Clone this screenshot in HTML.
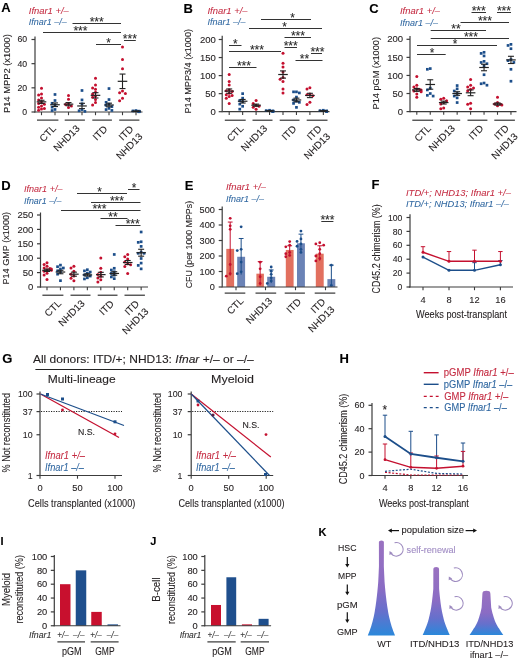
<!DOCTYPE html>
<html><head><meta charset="utf-8"><style>
html,body{margin:0;padding:0;background:#fff;}
svg{display:block;will-change:transform;}
text{font-family:"Liberation Sans",sans-serif;}
</style></head><body>
<svg width="520" height="659" viewBox="0 0 520 659">
<rect width="520" height="659" fill="#fff"/>
<g fill="#231f20">
<text x="1.30" y="11.80" font-size="13.00" fill="#000" font-weight="bold" stroke="#000" stroke-width="0.10">A</text>
<text x="28.80" y="13.80" font-size="9.80" fill="#c42a40" textLength="40.00" lengthAdjust="spacingAndGlyphs" font-style="italic" stroke="#c42a40" stroke-width="0.05">Ifnar1 +/–</text>
<text x="28.80" y="25.00" font-size="9.80" fill="#2e66a0" textLength="38.00" lengthAdjust="spacingAndGlyphs" font-style="italic" stroke="#2e66a0" stroke-width="0.05">Ifnar1 –/–</text>
<line x1="35.00" y1="36.50" x2="35.00" y2="112.60" stroke="#3c3c3c" stroke-width="1.20"/>
<line x1="31.50" y1="112.00" x2="35.00" y2="112.00" stroke="#3c3c3c" stroke-width="1.20"/>
<text x="27.20" y="114.99" font-size="8.30" text-anchor="end" textLength="4.85" lengthAdjust="spacingAndGlyphs" stroke="#231f20" stroke-width="0.10">0</text>
<line x1="31.50" y1="87.83" x2="35.00" y2="87.83" stroke="#3c3c3c" stroke-width="1.20"/>
<text x="27.20" y="90.82" font-size="8.30" text-anchor="end" textLength="9.70" lengthAdjust="spacingAndGlyphs" stroke="#231f20" stroke-width="0.10">20</text>
<line x1="31.50" y1="63.67" x2="35.00" y2="63.67" stroke="#3c3c3c" stroke-width="1.20"/>
<text x="27.20" y="66.65" font-size="8.30" text-anchor="end" textLength="9.70" lengthAdjust="spacingAndGlyphs" stroke="#231f20" stroke-width="0.10">40</text>
<line x1="31.50" y1="39.50" x2="35.00" y2="39.50" stroke="#3c3c3c" stroke-width="1.20"/>
<text x="27.20" y="42.49" font-size="8.30" text-anchor="end" textLength="9.70" lengthAdjust="spacingAndGlyphs" stroke="#231f20" stroke-width="0.10">60</text>
<text x="9.60" y="73.60" font-size="9.30" text-anchor="middle" textLength="79.00" lengthAdjust="spacingAndGlyphs" transform="rotate(-90.0 9.60 73.60)" stroke="#231f20" stroke-width="0.10">P14 MPP2 (x1000)</text>
<line x1="34.40" y1="112.00" x2="142.50" y2="112.00" stroke="#3c3c3c" stroke-width="1.20"/>
<line x1="41.50" y1="112.00" x2="41.50" y2="115.20" stroke="#3c3c3c" stroke-width="1.10"/>
<line x1="55.00" y1="112.00" x2="55.00" y2="115.20" stroke="#3c3c3c" stroke-width="1.10"/>
<line x1="68.50" y1="112.00" x2="68.50" y2="115.20" stroke="#3c3c3c" stroke-width="1.10"/>
<line x1="82.00" y1="112.00" x2="82.00" y2="115.20" stroke="#3c3c3c" stroke-width="1.10"/>
<line x1="95.50" y1="112.00" x2="95.50" y2="115.20" stroke="#3c3c3c" stroke-width="1.10"/>
<line x1="109.00" y1="112.00" x2="109.00" y2="115.20" stroke="#3c3c3c" stroke-width="1.10"/>
<line x1="122.50" y1="112.00" x2="122.50" y2="115.20" stroke="#3c3c3c" stroke-width="1.10"/>
<line x1="136.00" y1="112.00" x2="136.00" y2="115.20" stroke="#3c3c3c" stroke-width="1.10"/>
<circle cx="41.50" cy="88.32" r="1.50" fill="#c4102f"/>
<circle cx="41.50" cy="93.88" r="1.50" fill="#c4102f"/>
<circle cx="38.60" cy="95.08" r="1.50" fill="#c4102f"/>
<circle cx="41.50" cy="98.10" r="1.50" fill="#c4102f"/>
<circle cx="38.60" cy="99.92" r="1.50" fill="#c4102f"/>
<circle cx="41.50" cy="101.73" r="1.50" fill="#c4102f"/>
<circle cx="38.60" cy="103.54" r="1.50" fill="#c4102f"/>
<circle cx="44.40" cy="104.15" r="1.50" fill="#c4102f"/>
<circle cx="41.50" cy="105.96" r="1.50" fill="#c4102f"/>
<circle cx="38.60" cy="107.17" r="1.50" fill="#c4102f"/>
<circle cx="44.40" cy="108.38" r="1.50" fill="#c4102f"/>
<circle cx="41.50" cy="108.98" r="1.50" fill="#c4102f"/>
<circle cx="38.60" cy="110.19" r="1.50" fill="#c4102f"/>
<line x1="36.70" y1="101.85" x2="46.30" y2="101.85" stroke="#222" stroke-width="1.20"/>
<line x1="41.50" y1="100.28" x2="41.50" y2="103.42" stroke="#222" stroke-width="1.10"/>
<line x1="38.50" y1="100.28" x2="44.50" y2="100.28" stroke="#222" stroke-width="1.10"/>
<line x1="38.50" y1="103.42" x2="44.50" y2="103.42" stroke="#222" stroke-width="1.10"/>
<rect x="53.65" y="93.13" width="2.70" height="2.70" fill="#1c4e8a"/>
<rect x="53.65" y="99.17" width="2.70" height="2.70" fill="#1c4e8a"/>
<rect x="50.75" y="101.95" width="2.70" height="2.70" fill="#1c4e8a"/>
<rect x="53.65" y="103.64" width="2.70" height="2.70" fill="#1c4e8a"/>
<rect x="50.75" y="105.82" width="2.70" height="2.70" fill="#1c4e8a"/>
<rect x="53.65" y="108.11" width="2.70" height="2.70" fill="#1c4e8a"/>
<rect x="50.75" y="109.20" width="2.70" height="2.70" fill="#1c4e8a"/>
<line x1="50.20" y1="104.75" x2="59.80" y2="104.75" stroke="#222" stroke-width="1.20"/>
<line x1="55.00" y1="102.94" x2="55.00" y2="106.56" stroke="#222" stroke-width="1.10"/>
<line x1="52.00" y1="102.94" x2="58.00" y2="102.94" stroke="#222" stroke-width="1.10"/>
<line x1="52.00" y1="106.56" x2="58.00" y2="106.56" stroke="#222" stroke-width="1.10"/>
<circle cx="68.50" cy="95.57" r="1.50" fill="#c4102f"/>
<circle cx="68.50" cy="99.31" r="1.50" fill="#c4102f"/>
<circle cx="68.50" cy="103.78" r="1.50" fill="#c4102f"/>
<circle cx="65.60" cy="104.51" r="1.50" fill="#c4102f"/>
<circle cx="71.40" cy="105.96" r="1.50" fill="#c4102f"/>
<circle cx="68.50" cy="107.41" r="1.50" fill="#c4102f"/>
<line x1="63.70" y1="104.15" x2="73.30" y2="104.15" stroke="#222" stroke-width="1.20"/>
<line x1="68.50" y1="102.58" x2="68.50" y2="105.72" stroke="#222" stroke-width="1.10"/>
<line x1="65.50" y1="102.58" x2="71.50" y2="102.58" stroke="#222" stroke-width="1.10"/>
<line x1="65.50" y1="105.72" x2="71.50" y2="105.72" stroke="#222" stroke-width="1.10"/>
<rect x="80.65" y="89.14" width="2.70" height="2.70" fill="#1c4e8a"/>
<rect x="80.65" y="98.57" width="2.70" height="2.70" fill="#1c4e8a"/>
<rect x="80.65" y="102.43" width="2.70" height="2.70" fill="#1c4e8a"/>
<rect x="80.65" y="108.23" width="2.70" height="2.70" fill="#1c4e8a"/>
<rect x="77.75" y="109.44" width="2.70" height="2.70" fill="#1c4e8a"/>
<rect x="83.55" y="110.05" width="2.70" height="2.70" fill="#1c4e8a"/>
<line x1="77.20" y1="105.96" x2="86.80" y2="105.96" stroke="#222" stroke-width="1.20"/>
<line x1="82.00" y1="103.30" x2="82.00" y2="108.62" stroke="#222" stroke-width="1.10"/>
<line x1="79.00" y1="103.30" x2="85.00" y2="103.30" stroke="#222" stroke-width="1.10"/>
<line x1="79.00" y1="108.62" x2="85.00" y2="108.62" stroke="#222" stroke-width="1.10"/>
<circle cx="95.50" cy="78.29" r="1.50" fill="#c4102f"/>
<circle cx="95.50" cy="85.05" r="1.50" fill="#c4102f"/>
<circle cx="92.60" cy="87.95" r="1.50" fill="#c4102f"/>
<circle cx="95.50" cy="89.16" r="1.50" fill="#c4102f"/>
<circle cx="95.50" cy="92.18" r="1.50" fill="#c4102f"/>
<circle cx="92.60" cy="94.00" r="1.50" fill="#c4102f"/>
<circle cx="95.50" cy="95.93" r="1.50" fill="#c4102f"/>
<circle cx="92.60" cy="97.14" r="1.50" fill="#c4102f"/>
<circle cx="95.50" cy="99.55" r="1.50" fill="#c4102f"/>
<circle cx="95.50" cy="102.58" r="1.50" fill="#c4102f"/>
<circle cx="92.60" cy="104.99" r="1.50" fill="#c4102f"/>
<line x1="90.70" y1="95.33" x2="100.30" y2="95.33" stroke="#222" stroke-width="1.20"/>
<line x1="95.50" y1="92.67" x2="95.50" y2="97.98" stroke="#222" stroke-width="1.10"/>
<line x1="92.50" y1="92.67" x2="98.50" y2="92.67" stroke="#222" stroke-width="1.10"/>
<line x1="92.50" y1="97.98" x2="98.50" y2="97.98" stroke="#222" stroke-width="1.10"/>
<rect x="107.65" y="87.21" width="2.70" height="2.70" fill="#1c4e8a"/>
<rect x="107.65" y="98.20" width="2.70" height="2.70" fill="#1c4e8a"/>
<rect x="104.75" y="100.98" width="2.70" height="2.70" fill="#1c4e8a"/>
<rect x="107.65" y="102.80" width="2.70" height="2.70" fill="#1c4e8a"/>
<rect x="104.75" y="104.00" width="2.70" height="2.70" fill="#1c4e8a"/>
<rect x="110.55" y="105.21" width="2.70" height="2.70" fill="#1c4e8a"/>
<rect x="107.65" y="107.03" width="2.70" height="2.70" fill="#1c4e8a"/>
<rect x="104.75" y="108.23" width="2.70" height="2.70" fill="#1c4e8a"/>
<rect x="110.55" y="109.08" width="2.70" height="2.70" fill="#1c4e8a"/>
<line x1="104.20" y1="104.99" x2="113.80" y2="104.99" stroke="#222" stroke-width="1.20"/>
<line x1="109.00" y1="103.18" x2="109.00" y2="106.80" stroke="#222" stroke-width="1.10"/>
<line x1="106.00" y1="103.18" x2="112.00" y2="103.18" stroke="#222" stroke-width="1.10"/>
<line x1="106.00" y1="106.80" x2="112.00" y2="106.80" stroke="#222" stroke-width="1.10"/>
<circle cx="122.50" cy="46.99" r="1.50" fill="#c4102f"/>
<circle cx="122.50" cy="59.44" r="1.50" fill="#c4102f"/>
<circle cx="122.50" cy="68.86" r="1.50" fill="#c4102f"/>
<circle cx="122.50" cy="90.97" r="1.50" fill="#c4102f"/>
<circle cx="119.60" cy="92.79" r="1.50" fill="#c4102f"/>
<circle cx="125.40" cy="93.39" r="1.50" fill="#c4102f"/>
<circle cx="122.50" cy="98.35" r="1.50" fill="#c4102f"/>
<circle cx="119.60" cy="100.64" r="1.50" fill="#c4102f"/>
<line x1="117.70" y1="81.31" x2="127.30" y2="81.31" stroke="#222" stroke-width="1.20"/>
<line x1="122.50" y1="74.06" x2="122.50" y2="88.56" stroke="#222" stroke-width="1.10"/>
<line x1="119.50" y1="74.06" x2="125.50" y2="74.06" stroke="#222" stroke-width="1.10"/>
<line x1="119.50" y1="88.56" x2="125.50" y2="88.56" stroke="#222" stroke-width="1.10"/>
<rect x="134.65" y="109.20" width="2.70" height="2.70" fill="#1c4e8a"/>
<rect x="131.65" y="109.56" width="2.70" height="2.70" fill="#1c4e8a"/>
<rect x="137.65" y="109.80" width="2.70" height="2.70" fill="#1c4e8a"/>
<rect x="137.65" y="110.05" width="2.70" height="2.70" fill="#1c4e8a"/>
<rect x="137.65" y="110.17" width="2.70" height="2.70" fill="#1c4e8a"/>
<rect x="137.65" y="110.29" width="2.70" height="2.70" fill="#1c4e8a"/>
<rect x="137.65" y="110.41" width="2.70" height="2.70" fill="#1c4e8a"/>
<line x1="131.20" y1="111.28" x2="140.80" y2="111.28" stroke="#222" stroke-width="1.20"/>
<line x1="136.00" y1="111.03" x2="136.00" y2="111.52" stroke="#222" stroke-width="1.10"/>
<line x1="133.00" y1="111.03" x2="139.00" y2="111.03" stroke="#222" stroke-width="1.10"/>
<line x1="133.00" y1="111.52" x2="139.00" y2="111.52" stroke="#222" stroke-width="1.10"/>
<line x1="37.00" y1="120.10" x2="58.40" y2="120.10" stroke="#222" stroke-width="1.10"/>
<line x1="64.70" y1="120.10" x2="84.90" y2="120.10" stroke="#222" stroke-width="1.10"/>
<line x1="92.30" y1="120.10" x2="111.90" y2="120.10" stroke="#222" stroke-width="1.10"/>
<line x1="119.20" y1="120.10" x2="139.40" y2="120.10" stroke="#222" stroke-width="1.10"/>
<line x1="72.50" y1="23.50" x2="121.00" y2="23.50" stroke="#333" stroke-width="1.00"/>
<text x="96.75" y="26.10" font-size="12.00" fill="#2a2a2a" text-anchor="middle" textLength="14.20" lengthAdjust="spacingAndGlyphs" stroke="#2a2a2a" stroke-width="0.10">***</text>
<line x1="43.00" y1="32.50" x2="121.00" y2="32.50" stroke="#333" stroke-width="1.00"/>
<text x="80.50" y="35.10" font-size="12.00" fill="#2a2a2a" text-anchor="middle" textLength="14.20" lengthAdjust="spacingAndGlyphs" stroke="#2a2a2a" stroke-width="0.10">***</text>
<line x1="96.00" y1="44.50" x2="121.00" y2="44.50" stroke="#333" stroke-width="1.00"/>
<text x="108.50" y="47.10" font-size="12.00" fill="#2a2a2a" text-anchor="middle" textLength="4.60" lengthAdjust="spacingAndGlyphs" stroke="#2a2a2a" stroke-width="0.10">*</text>
<line x1="124.00" y1="40.50" x2="135.80" y2="40.50" stroke="#333" stroke-width="1.00"/>
<text x="129.90" y="43.10" font-size="12.00" fill="#2a2a2a" text-anchor="middle" textLength="14.20" lengthAdjust="spacingAndGlyphs" stroke="#2a2a2a" stroke-width="0.10">***</text>
<text x="56.60" y="129.20" font-size="9.90" text-anchor="end" transform="rotate(-45.0 56.60 129.20)" stroke="#231f20" stroke-width="0.10">CTL</text>
<text x="80.40" y="129.10" font-size="9.90" text-anchor="end" transform="rotate(-45.0 80.40 129.10)" stroke="#231f20" stroke-width="0.10">NHD13</text>
<text x="108.00" y="129.70" font-size="9.90" text-anchor="end" transform="rotate(-45.0 108.00 129.70)" stroke="#231f20" stroke-width="0.10">ITD</text>
<text x="134.00" y="129.70" font-size="9.90" text-anchor="end" transform="rotate(-45.0 134.00 129.70)" stroke="#231f20" stroke-width="0.10">ITD</text>
<text x="143.20" y="137.20" font-size="9.90" text-anchor="end" transform="rotate(-45.0 143.20 137.20)" stroke="#231f20" stroke-width="0.10">NHD13</text>
<text x="183.60" y="12.50" font-size="13.00" fill="#000" font-weight="bold" stroke="#000" stroke-width="0.10">B</text>
<text x="207.50" y="13.80" font-size="9.80" fill="#c42a40" textLength="40.00" lengthAdjust="spacingAndGlyphs" font-style="italic" stroke="#c42a40" stroke-width="0.05">Ifnar1 +/–</text>
<text x="207.50" y="25.00" font-size="9.80" fill="#2e66a0" textLength="38.00" lengthAdjust="spacingAndGlyphs" font-style="italic" stroke="#2e66a0" stroke-width="0.05">Ifnar1 –/–</text>
<line x1="222.20" y1="35.80" x2="222.20" y2="112.30" stroke="#3c3c3c" stroke-width="1.20"/>
<line x1="218.70" y1="111.70" x2="222.20" y2="111.70" stroke="#3c3c3c" stroke-width="1.20"/>
<text x="215.80" y="114.87" font-size="8.80" text-anchor="end" textLength="5.30" lengthAdjust="spacingAndGlyphs" stroke="#231f20" stroke-width="0.10">0</text>
<line x1="218.70" y1="93.65" x2="222.20" y2="93.65" stroke="#3c3c3c" stroke-width="1.20"/>
<text x="215.80" y="96.82" font-size="8.80" text-anchor="end" textLength="10.60" lengthAdjust="spacingAndGlyphs" stroke="#231f20" stroke-width="0.10">50</text>
<line x1="218.70" y1="75.60" x2="222.20" y2="75.60" stroke="#3c3c3c" stroke-width="1.20"/>
<text x="215.80" y="78.77" font-size="8.80" text-anchor="end" textLength="15.90" lengthAdjust="spacingAndGlyphs" stroke="#231f20" stroke-width="0.10">100</text>
<line x1="218.70" y1="57.55" x2="222.20" y2="57.55" stroke="#3c3c3c" stroke-width="1.20"/>
<text x="215.80" y="60.72" font-size="8.80" text-anchor="end" textLength="15.90" lengthAdjust="spacingAndGlyphs" stroke="#231f20" stroke-width="0.10">150</text>
<line x1="218.70" y1="39.50" x2="222.20" y2="39.50" stroke="#3c3c3c" stroke-width="1.20"/>
<text x="215.80" y="42.67" font-size="8.80" text-anchor="end" textLength="15.90" lengthAdjust="spacingAndGlyphs" stroke="#231f20" stroke-width="0.10">200</text>
<text x="191.00" y="71.25" font-size="9.50" text-anchor="middle" textLength="84.50" lengthAdjust="spacingAndGlyphs" transform="rotate(-90.0 191.00 71.25)" stroke="#231f20" stroke-width="0.10">P14 MPP3/4 (x1000)</text>
<line x1="222.40" y1="111.70" x2="329.50" y2="111.70" stroke="#3c3c3c" stroke-width="1.20"/>
<line x1="229.20" y1="111.70" x2="229.20" y2="114.90" stroke="#3c3c3c" stroke-width="1.10"/>
<line x1="242.65" y1="111.70" x2="242.65" y2="114.90" stroke="#3c3c3c" stroke-width="1.10"/>
<line x1="256.10" y1="111.70" x2="256.10" y2="114.90" stroke="#3c3c3c" stroke-width="1.10"/>
<line x1="269.55" y1="111.70" x2="269.55" y2="114.90" stroke="#3c3c3c" stroke-width="1.10"/>
<line x1="283.00" y1="111.70" x2="283.00" y2="114.90" stroke="#3c3c3c" stroke-width="1.10"/>
<line x1="296.45" y1="111.70" x2="296.45" y2="114.90" stroke="#3c3c3c" stroke-width="1.10"/>
<line x1="309.90" y1="111.70" x2="309.90" y2="114.90" stroke="#3c3c3c" stroke-width="1.10"/>
<line x1="323.35" y1="111.70" x2="323.35" y2="114.90" stroke="#3c3c3c" stroke-width="1.10"/>
<circle cx="229.20" cy="74.52" r="1.50" fill="#c4102f"/>
<circle cx="229.20" cy="81.38" r="1.50" fill="#c4102f"/>
<circle cx="229.20" cy="84.99" r="1.50" fill="#c4102f"/>
<circle cx="229.20" cy="89.68" r="1.50" fill="#c4102f"/>
<circle cx="226.30" cy="90.76" r="1.50" fill="#c4102f"/>
<circle cx="232.10" cy="91.48" r="1.50" fill="#c4102f"/>
<circle cx="229.20" cy="93.29" r="1.50" fill="#c4102f"/>
<circle cx="226.30" cy="94.73" r="1.50" fill="#c4102f"/>
<circle cx="232.10" cy="95.45" r="1.50" fill="#c4102f"/>
<circle cx="229.20" cy="96.54" r="1.50" fill="#c4102f"/>
<circle cx="226.30" cy="98.34" r="1.50" fill="#c4102f"/>
<circle cx="229.20" cy="103.40" r="1.50" fill="#c4102f"/>
<line x1="224.40" y1="91.12" x2="234.00" y2="91.12" stroke="#222" stroke-width="1.20"/>
<line x1="229.20" y1="88.96" x2="229.20" y2="93.29" stroke="#222" stroke-width="1.10"/>
<line x1="226.20" y1="88.96" x2="232.20" y2="88.96" stroke="#222" stroke-width="1.10"/>
<line x1="226.20" y1="93.29" x2="232.20" y2="93.29" stroke="#222" stroke-width="1.10"/>
<rect x="241.30" y="92.30" width="2.70" height="2.70" fill="#1c4e8a"/>
<rect x="241.30" y="96.81" width="2.70" height="2.70" fill="#1c4e8a"/>
<rect x="238.40" y="99.16" width="2.70" height="2.70" fill="#1c4e8a"/>
<rect x="241.30" y="100.24" width="2.70" height="2.70" fill="#1c4e8a"/>
<rect x="238.40" y="102.77" width="2.70" height="2.70" fill="#1c4e8a"/>
<rect x="241.30" y="104.94" width="2.70" height="2.70" fill="#1c4e8a"/>
<rect x="238.40" y="107.82" width="2.70" height="2.70" fill="#1c4e8a"/>
<line x1="237.85" y1="101.23" x2="247.45" y2="101.23" stroke="#222" stroke-width="1.20"/>
<line x1="242.65" y1="99.43" x2="242.65" y2="103.04" stroke="#222" stroke-width="1.10"/>
<line x1="239.65" y1="99.43" x2="245.65" y2="99.43" stroke="#222" stroke-width="1.10"/>
<line x1="239.65" y1="103.04" x2="245.65" y2="103.04" stroke="#222" stroke-width="1.10"/>
<circle cx="256.10" cy="100.51" r="1.50" fill="#c4102f"/>
<circle cx="253.20" cy="103.40" r="1.50" fill="#c4102f"/>
<circle cx="256.10" cy="105.20" r="1.50" fill="#c4102f"/>
<circle cx="259.00" cy="106.28" r="1.50" fill="#c4102f"/>
<circle cx="253.20" cy="107.37" r="1.50" fill="#c4102f"/>
<circle cx="256.10" cy="109.17" r="1.50" fill="#c4102f"/>
<line x1="251.30" y1="105.20" x2="260.90" y2="105.20" stroke="#222" stroke-width="1.20"/>
<line x1="256.10" y1="104.12" x2="256.10" y2="106.28" stroke="#222" stroke-width="1.10"/>
<line x1="253.10" y1="104.12" x2="259.10" y2="104.12" stroke="#222" stroke-width="1.10"/>
<line x1="253.10" y1="106.28" x2="259.10" y2="106.28" stroke="#222" stroke-width="1.10"/>
<rect x="268.20" y="108.91" width="2.70" height="2.70" fill="#1c4e8a"/>
<rect x="264.90" y="109.27" width="2.70" height="2.70" fill="#1c4e8a"/>
<rect x="271.50" y="109.63" width="2.70" height="2.70" fill="#1c4e8a"/>
<rect x="271.50" y="109.81" width="2.70" height="2.70" fill="#1c4e8a"/>
<rect x="271.50" y="109.99" width="2.70" height="2.70" fill="#1c4e8a"/>
<rect x="271.50" y="110.17" width="2.70" height="2.70" fill="#1c4e8a"/>
<line x1="264.75" y1="110.98" x2="274.35" y2="110.98" stroke="#222" stroke-width="1.20"/>
<line x1="269.55" y1="110.80" x2="269.55" y2="111.16" stroke="#222" stroke-width="1.10"/>
<line x1="266.55" y1="110.80" x2="272.55" y2="110.80" stroke="#222" stroke-width="1.10"/>
<line x1="266.55" y1="111.16" x2="272.55" y2="111.16" stroke="#222" stroke-width="1.10"/>
<circle cx="283.00" cy="53.22" r="1.50" fill="#c4102f"/>
<circle cx="283.00" cy="63.33" r="1.50" fill="#c4102f"/>
<circle cx="283.00" cy="66.94" r="1.50" fill="#c4102f"/>
<circle cx="283.00" cy="71.99" r="1.50" fill="#c4102f"/>
<circle cx="283.00" cy="77.41" r="1.50" fill="#c4102f"/>
<circle cx="280.10" cy="79.21" r="1.50" fill="#c4102f"/>
<circle cx="283.00" cy="81.38" r="1.50" fill="#c4102f"/>
<circle cx="283.00" cy="88.96" r="1.50" fill="#c4102f"/>
<circle cx="283.00" cy="92.93" r="1.50" fill="#c4102f"/>
<line x1="278.20" y1="74.52" x2="287.80" y2="74.52" stroke="#222" stroke-width="1.20"/>
<line x1="283.00" y1="70.91" x2="283.00" y2="78.13" stroke="#222" stroke-width="1.10"/>
<line x1="280.00" y1="70.91" x2="286.00" y2="70.91" stroke="#222" stroke-width="1.10"/>
<line x1="280.00" y1="78.13" x2="286.00" y2="78.13" stroke="#222" stroke-width="1.10"/>
<rect x="295.10" y="90.50" width="2.70" height="2.70" fill="#1c4e8a"/>
<rect x="292.20" y="90.50" width="2.70" height="2.70" fill="#1c4e8a"/>
<rect x="298.00" y="91.58" width="2.70" height="2.70" fill="#1c4e8a"/>
<rect x="295.10" y="95.73" width="2.70" height="2.70" fill="#1c4e8a"/>
<rect x="292.20" y="98.62" width="2.70" height="2.70" fill="#1c4e8a"/>
<rect x="295.10" y="99.88" width="2.70" height="2.70" fill="#1c4e8a"/>
<rect x="298.00" y="100.96" width="2.70" height="2.70" fill="#1c4e8a"/>
<rect x="292.20" y="102.05" width="2.70" height="2.70" fill="#1c4e8a"/>
<rect x="295.10" y="106.02" width="2.70" height="2.70" fill="#1c4e8a"/>
<line x1="291.65" y1="99.97" x2="301.25" y2="99.97" stroke="#222" stroke-width="1.20"/>
<line x1="296.45" y1="98.16" x2="296.45" y2="101.77" stroke="#222" stroke-width="1.10"/>
<line x1="293.45" y1="98.16" x2="299.45" y2="98.16" stroke="#222" stroke-width="1.10"/>
<line x1="293.45" y1="101.77" x2="299.45" y2="101.77" stroke="#222" stroke-width="1.10"/>
<circle cx="309.90" cy="87.87" r="1.50" fill="#c4102f"/>
<circle cx="307.00" cy="88.96" r="1.50" fill="#c4102f"/>
<circle cx="309.90" cy="94.01" r="1.50" fill="#c4102f"/>
<circle cx="307.00" cy="94.73" r="1.50" fill="#c4102f"/>
<circle cx="312.80" cy="95.82" r="1.50" fill="#c4102f"/>
<circle cx="309.90" cy="102.31" r="1.50" fill="#c4102f"/>
<circle cx="307.00" cy="104.48" r="1.50" fill="#c4102f"/>
<line x1="305.10" y1="95.45" x2="314.70" y2="95.45" stroke="#222" stroke-width="1.20"/>
<line x1="309.90" y1="93.29" x2="309.90" y2="97.62" stroke="#222" stroke-width="1.10"/>
<line x1="306.90" y1="93.29" x2="312.90" y2="93.29" stroke="#222" stroke-width="1.10"/>
<line x1="306.90" y1="97.62" x2="312.90" y2="97.62" stroke="#222" stroke-width="1.10"/>
<rect x="322.00" y="108.91" width="2.70" height="2.70" fill="#1c4e8a"/>
<rect x="318.70" y="109.27" width="2.70" height="2.70" fill="#1c4e8a"/>
<rect x="325.30" y="109.63" width="2.70" height="2.70" fill="#1c4e8a"/>
<rect x="325.30" y="109.81" width="2.70" height="2.70" fill="#1c4e8a"/>
<rect x="325.30" y="109.99" width="2.70" height="2.70" fill="#1c4e8a"/>
<rect x="325.30" y="110.17" width="2.70" height="2.70" fill="#1c4e8a"/>
<line x1="318.55" y1="110.98" x2="328.15" y2="110.98" stroke="#222" stroke-width="1.20"/>
<line x1="323.35" y1="110.80" x2="323.35" y2="111.16" stroke="#222" stroke-width="1.10"/>
<line x1="320.35" y1="110.80" x2="326.35" y2="110.80" stroke="#222" stroke-width="1.10"/>
<line x1="320.35" y1="111.16" x2="326.35" y2="111.16" stroke="#222" stroke-width="1.10"/>
<line x1="224.80" y1="120.20" x2="245.70" y2="120.20" stroke="#222" stroke-width="1.10"/>
<line x1="252.50" y1="120.20" x2="272.50" y2="120.20" stroke="#222" stroke-width="1.10"/>
<line x1="279.70" y1="120.20" x2="299.50" y2="120.20" stroke="#222" stroke-width="1.10"/>
<line x1="306.70" y1="120.20" x2="327.50" y2="120.20" stroke="#222" stroke-width="1.10"/>
<line x1="261.00" y1="19.50" x2="311.00" y2="19.50" stroke="#333" stroke-width="1.00"/>
<text x="292.50" y="22.10" font-size="12.00" fill="#2a2a2a" text-anchor="middle" textLength="4.60" lengthAdjust="spacingAndGlyphs" stroke="#2a2a2a" stroke-width="0.10">*</text>
<line x1="249.00" y1="28.50" x2="322.00" y2="28.50" stroke="#333" stroke-width="1.00"/>
<text x="284.50" y="31.10" font-size="12.00" fill="#2a2a2a" text-anchor="middle" textLength="4.60" lengthAdjust="spacingAndGlyphs" stroke="#2a2a2a" stroke-width="0.10">*</text>
<line x1="284.50" y1="37.50" x2="311.00" y2="37.50" stroke="#333" stroke-width="1.00"/>
<text x="298.00" y="40.10" font-size="12.00" fill="#2a2a2a" text-anchor="middle" textLength="14.20" lengthAdjust="spacingAndGlyphs" stroke="#2a2a2a" stroke-width="0.10">***</text>
<line x1="229.00" y1="45.50" x2="241.50" y2="45.50" stroke="#333" stroke-width="1.00"/>
<text x="235.25" y="48.10" font-size="12.00" fill="#2a2a2a" text-anchor="middle" textLength="4.60" lengthAdjust="spacingAndGlyphs" stroke="#2a2a2a" stroke-width="0.10">*</text>
<line x1="284.50" y1="47.50" x2="297.00" y2="47.50" stroke="#333" stroke-width="1.00"/>
<text x="290.75" y="50.10" font-size="12.00" fill="#2a2a2a" text-anchor="middle" textLength="14.20" lengthAdjust="spacingAndGlyphs" stroke="#2a2a2a" stroke-width="0.10">***</text>
<line x1="229.00" y1="51.50" x2="281.00" y2="51.50" stroke="#333" stroke-width="1.00"/>
<text x="257.00" y="54.10" font-size="12.00" fill="#2a2a2a" text-anchor="middle" textLength="14.20" lengthAdjust="spacingAndGlyphs" stroke="#2a2a2a" stroke-width="0.10">***</text>
<line x1="311.00" y1="53.50" x2="322.00" y2="53.50" stroke="#333" stroke-width="1.00"/>
<text x="317.50" y="56.10" font-size="12.00" fill="#2a2a2a" text-anchor="middle" textLength="14.20" lengthAdjust="spacingAndGlyphs" stroke="#2a2a2a" stroke-width="0.10">***</text>
<line x1="295.50" y1="60.50" x2="322.50" y2="60.50" stroke="#333" stroke-width="1.00"/>
<text x="304.50" y="63.10" font-size="12.00" fill="#2a2a2a" text-anchor="middle" textLength="9.40" lengthAdjust="spacingAndGlyphs" stroke="#2a2a2a" stroke-width="0.10">**</text>
<line x1="229.00" y1="67.50" x2="256.50" y2="67.50" stroke="#333" stroke-width="1.00"/>
<text x="244.00" y="70.10" font-size="12.00" fill="#2a2a2a" text-anchor="middle" textLength="14.20" lengthAdjust="spacingAndGlyphs" stroke="#2a2a2a" stroke-width="0.10">***</text>
<text x="244.20" y="129.00" font-size="9.90" text-anchor="end" transform="rotate(-45.0 244.20 129.00)" stroke="#231f20" stroke-width="0.10">CTL</text>
<text x="268.00" y="129.00" font-size="9.90" text-anchor="end" transform="rotate(-45.0 268.00 129.00)" stroke="#231f20" stroke-width="0.10">NHD13</text>
<text x="297.00" y="129.50" font-size="9.90" text-anchor="end" transform="rotate(-45.0 297.00 129.50)" stroke="#231f20" stroke-width="0.10">ITD</text>
<text x="322.20" y="129.50" font-size="9.90" text-anchor="end" transform="rotate(-45.0 322.20 129.50)" stroke="#231f20" stroke-width="0.10">ITD</text>
<text x="330.80" y="137.00" font-size="9.90" text-anchor="end" transform="rotate(-45.0 330.80 137.00)" stroke="#231f20" stroke-width="0.10">NHD13</text>
<text x="369.20" y="12.50" font-size="13.00" fill="#000" font-weight="bold" stroke="#000" stroke-width="0.10">C</text>
<text x="400.00" y="14.20" font-size="9.80" fill="#c42a40" textLength="40.00" lengthAdjust="spacingAndGlyphs" font-style="italic" stroke="#c42a40" stroke-width="0.05">Ifnar1 +/–</text>
<text x="400.00" y="25.50" font-size="9.80" fill="#2e66a0" textLength="38.00" lengthAdjust="spacingAndGlyphs" font-style="italic" stroke="#2e66a0" stroke-width="0.05">Ifnar1 –/–</text>
<line x1="410.00" y1="36.00" x2="410.00" y2="112.20" stroke="#3c3c3c" stroke-width="1.20"/>
<line x1="406.50" y1="111.60" x2="410.00" y2="111.60" stroke="#3c3c3c" stroke-width="1.20"/>
<text x="403.10" y="114.77" font-size="8.80" text-anchor="end" textLength="5.30" lengthAdjust="spacingAndGlyphs" stroke="#231f20" stroke-width="0.10">0</text>
<line x1="406.50" y1="93.52" x2="410.00" y2="93.52" stroke="#3c3c3c" stroke-width="1.20"/>
<text x="403.10" y="96.69" font-size="8.80" text-anchor="end" textLength="10.60" lengthAdjust="spacingAndGlyphs" stroke="#231f20" stroke-width="0.10">50</text>
<line x1="406.50" y1="75.45" x2="410.00" y2="75.45" stroke="#3c3c3c" stroke-width="1.20"/>
<text x="403.10" y="78.62" font-size="8.80" text-anchor="end" textLength="15.90" lengthAdjust="spacingAndGlyphs" stroke="#231f20" stroke-width="0.10">100</text>
<line x1="406.50" y1="57.37" x2="410.00" y2="57.37" stroke="#3c3c3c" stroke-width="1.20"/>
<text x="403.10" y="60.54" font-size="8.80" text-anchor="end" textLength="15.90" lengthAdjust="spacingAndGlyphs" stroke="#231f20" stroke-width="0.10">150</text>
<line x1="406.50" y1="39.30" x2="410.00" y2="39.30" stroke="#3c3c3c" stroke-width="1.20"/>
<text x="403.10" y="42.47" font-size="8.80" text-anchor="end" textLength="15.90" lengthAdjust="spacingAndGlyphs" stroke="#231f20" stroke-width="0.10">200</text>
<text x="378.50" y="73.25" font-size="9.50" text-anchor="middle" textLength="72.50" lengthAdjust="spacingAndGlyphs" transform="rotate(-90.0 378.50 73.25)" stroke="#231f20" stroke-width="0.10">P14 pGM (x1000)</text>
<line x1="409.90" y1="111.60" x2="516.50" y2="111.60" stroke="#3c3c3c" stroke-width="1.20"/>
<line x1="416.80" y1="111.60" x2="416.80" y2="114.80" stroke="#3c3c3c" stroke-width="1.10"/>
<line x1="430.25" y1="111.60" x2="430.25" y2="114.80" stroke="#3c3c3c" stroke-width="1.10"/>
<line x1="443.70" y1="111.60" x2="443.70" y2="114.80" stroke="#3c3c3c" stroke-width="1.10"/>
<line x1="457.15" y1="111.60" x2="457.15" y2="114.80" stroke="#3c3c3c" stroke-width="1.10"/>
<line x1="470.60" y1="111.60" x2="470.60" y2="114.80" stroke="#3c3c3c" stroke-width="1.10"/>
<line x1="484.05" y1="111.60" x2="484.05" y2="114.80" stroke="#3c3c3c" stroke-width="1.10"/>
<line x1="497.50" y1="111.60" x2="497.50" y2="114.80" stroke="#3c3c3c" stroke-width="1.10"/>
<line x1="510.95" y1="111.60" x2="510.95" y2="114.80" stroke="#3c3c3c" stroke-width="1.10"/>
<circle cx="416.80" cy="76.53" r="1.50" fill="#c4102f"/>
<circle cx="416.80" cy="85.21" r="1.50" fill="#c4102f"/>
<circle cx="413.90" cy="87.02" r="1.50" fill="#c4102f"/>
<circle cx="416.80" cy="88.83" r="1.50" fill="#c4102f"/>
<circle cx="419.70" cy="89.55" r="1.50" fill="#c4102f"/>
<circle cx="421.15" cy="89.91" r="1.50" fill="#c4102f"/>
<circle cx="413.90" cy="90.99" r="1.50" fill="#c4102f"/>
<circle cx="421.15" cy="91.72" r="1.50" fill="#c4102f"/>
<circle cx="416.80" cy="94.07" r="1.50" fill="#c4102f"/>
<circle cx="416.80" cy="97.14" r="1.50" fill="#c4102f"/>
<line x1="412.00" y1="89.91" x2="421.60" y2="89.91" stroke="#222" stroke-width="1.20"/>
<line x1="416.80" y1="88.46" x2="416.80" y2="91.36" stroke="#222" stroke-width="1.10"/>
<line x1="413.80" y1="88.46" x2="419.80" y2="88.46" stroke="#222" stroke-width="1.10"/>
<line x1="413.80" y1="91.36" x2="419.80" y2="91.36" stroke="#222" stroke-width="1.10"/>
<rect x="428.90" y="67.23" width="2.70" height="2.70" fill="#1c4e8a"/>
<rect x="426.00" y="67.95" width="2.70" height="2.70" fill="#1c4e8a"/>
<rect x="428.90" y="86.75" width="2.70" height="2.70" fill="#1c4e8a"/>
<rect x="426.00" y="88.56" width="2.70" height="2.70" fill="#1c4e8a"/>
<rect x="428.90" y="92.17" width="2.70" height="2.70" fill="#1c4e8a"/>
<rect x="426.00" y="93.98" width="2.70" height="2.70" fill="#1c4e8a"/>
<rect x="431.80" y="94.71" width="2.70" height="2.70" fill="#1c4e8a"/>
<line x1="425.45" y1="84.49" x2="435.05" y2="84.49" stroke="#222" stroke-width="1.20"/>
<line x1="430.25" y1="79.79" x2="430.25" y2="89.19" stroke="#222" stroke-width="1.10"/>
<line x1="427.25" y1="79.79" x2="433.25" y2="79.79" stroke="#222" stroke-width="1.10"/>
<line x1="427.25" y1="89.19" x2="433.25" y2="89.19" stroke="#222" stroke-width="1.10"/>
<circle cx="443.70" cy="98.22" r="1.50" fill="#c4102f"/>
<circle cx="440.80" cy="99.31" r="1.50" fill="#c4102f"/>
<circle cx="446.60" cy="100.75" r="1.50" fill="#c4102f"/>
<circle cx="443.70" cy="102.56" r="1.50" fill="#c4102f"/>
<circle cx="440.80" cy="104.01" r="1.50" fill="#c4102f"/>
<circle cx="443.70" cy="107.98" r="1.50" fill="#c4102f"/>
<circle cx="440.80" cy="108.71" r="1.50" fill="#c4102f"/>
<line x1="438.90" y1="102.56" x2="448.50" y2="102.56" stroke="#222" stroke-width="1.20"/>
<line x1="443.70" y1="101.12" x2="443.70" y2="104.01" stroke="#222" stroke-width="1.10"/>
<line x1="440.70" y1="101.12" x2="446.70" y2="101.12" stroke="#222" stroke-width="1.10"/>
<line x1="440.70" y1="104.01" x2="446.70" y2="104.01" stroke="#222" stroke-width="1.10"/>
<rect x="455.80" y="84.22" width="2.70" height="2.70" fill="#1c4e8a"/>
<rect x="455.80" y="87.48" width="2.70" height="2.70" fill="#1c4e8a"/>
<rect x="452.90" y="89.64" width="2.70" height="2.70" fill="#1c4e8a"/>
<rect x="455.80" y="92.17" width="2.70" height="2.70" fill="#1c4e8a"/>
<rect x="452.90" y="94.71" width="2.70" height="2.70" fill="#1c4e8a"/>
<rect x="455.80" y="96.51" width="2.70" height="2.70" fill="#1c4e8a"/>
<rect x="455.80" y="101.21" width="2.70" height="2.70" fill="#1c4e8a"/>
<line x1="452.35" y1="93.52" x2="461.95" y2="93.52" stroke="#222" stroke-width="1.20"/>
<line x1="457.15" y1="91.72" x2="457.15" y2="95.33" stroke="#222" stroke-width="1.10"/>
<line x1="454.15" y1="91.72" x2="460.15" y2="91.72" stroke="#222" stroke-width="1.10"/>
<line x1="454.15" y1="95.33" x2="460.15" y2="95.33" stroke="#222" stroke-width="1.10"/>
<circle cx="470.60" cy="79.57" r="1.50" fill="#c4102f"/>
<circle cx="470.60" cy="85.21" r="1.50" fill="#c4102f"/>
<circle cx="467.70" cy="87.02" r="1.50" fill="#c4102f"/>
<circle cx="473.50" cy="88.10" r="1.50" fill="#c4102f"/>
<circle cx="470.60" cy="89.19" r="1.50" fill="#c4102f"/>
<circle cx="467.70" cy="90.63" r="1.50" fill="#c4102f"/>
<circle cx="470.60" cy="103.29" r="1.50" fill="#c4102f"/>
<circle cx="467.70" cy="104.37" r="1.50" fill="#c4102f"/>
<circle cx="470.60" cy="108.71" r="1.50" fill="#c4102f"/>
<line x1="465.80" y1="92.80" x2="475.40" y2="92.80" stroke="#222" stroke-width="1.20"/>
<line x1="470.60" y1="89.91" x2="470.60" y2="95.69" stroke="#222" stroke-width="1.10"/>
<line x1="467.60" y1="89.91" x2="473.60" y2="89.91" stroke="#222" stroke-width="1.10"/>
<line x1="467.60" y1="95.69" x2="473.60" y2="95.69" stroke="#222" stroke-width="1.10"/>
<rect x="482.70" y="50.96" width="2.70" height="2.70" fill="#1c4e8a"/>
<rect x="479.80" y="52.05" width="2.70" height="2.70" fill="#1c4e8a"/>
<rect x="482.70" y="54.58" width="2.70" height="2.70" fill="#1c4e8a"/>
<rect x="482.70" y="60.00" width="2.70" height="2.70" fill="#1c4e8a"/>
<rect x="479.80" y="61.09" width="2.70" height="2.70" fill="#1c4e8a"/>
<rect x="485.60" y="62.35" width="2.70" height="2.70" fill="#1c4e8a"/>
<rect x="482.70" y="64.34" width="2.70" height="2.70" fill="#1c4e8a"/>
<rect x="482.70" y="73.38" width="2.70" height="2.70" fill="#1c4e8a"/>
<rect x="482.70" y="81.69" width="2.70" height="2.70" fill="#1c4e8a"/>
<rect x="479.80" y="82.41" width="2.70" height="2.70" fill="#1c4e8a"/>
<rect x="485.60" y="83.86" width="2.70" height="2.70" fill="#1c4e8a"/>
<line x1="479.25" y1="67.50" x2="488.85" y2="67.50" stroke="#222" stroke-width="1.20"/>
<line x1="484.05" y1="64.24" x2="484.05" y2="70.75" stroke="#222" stroke-width="1.10"/>
<line x1="481.05" y1="64.24" x2="487.05" y2="64.24" stroke="#222" stroke-width="1.10"/>
<line x1="481.05" y1="70.75" x2="487.05" y2="70.75" stroke="#222" stroke-width="1.10"/>
<circle cx="497.50" cy="97.14" r="1.50" fill="#c4102f"/>
<circle cx="497.50" cy="102.56" r="1.50" fill="#c4102f"/>
<circle cx="494.60" cy="104.01" r="1.50" fill="#c4102f"/>
<circle cx="500.40" cy="104.37" r="1.50" fill="#c4102f"/>
<circle cx="501.85" cy="105.09" r="1.50" fill="#c4102f"/>
<circle cx="497.50" cy="105.82" r="1.50" fill="#c4102f"/>
<line x1="492.70" y1="104.01" x2="502.30" y2="104.01" stroke="#222" stroke-width="1.20"/>
<line x1="497.50" y1="102.92" x2="497.50" y2="105.09" stroke="#222" stroke-width="1.10"/>
<line x1="494.50" y1="102.92" x2="500.50" y2="102.92" stroke="#222" stroke-width="1.10"/>
<line x1="494.50" y1="105.09" x2="500.50" y2="105.09" stroke="#222" stroke-width="1.10"/>
<rect x="509.60" y="43.01" width="2.70" height="2.70" fill="#1c4e8a"/>
<rect x="506.70" y="44.10" width="2.70" height="2.70" fill="#1c4e8a"/>
<rect x="509.60" y="47.35" width="2.70" height="2.70" fill="#1c4e8a"/>
<rect x="509.60" y="58.19" width="2.70" height="2.70" fill="#1c4e8a"/>
<rect x="506.70" y="59.28" width="2.70" height="2.70" fill="#1c4e8a"/>
<rect x="512.50" y="61.09" width="2.70" height="2.70" fill="#1c4e8a"/>
<rect x="509.60" y="67.95" width="2.70" height="2.70" fill="#1c4e8a"/>
<rect x="509.60" y="79.88" width="2.70" height="2.70" fill="#1c4e8a"/>
<line x1="506.15" y1="59.91" x2="515.75" y2="59.91" stroke="#222" stroke-width="1.20"/>
<line x1="510.95" y1="56.29" x2="510.95" y2="63.52" stroke="#222" stroke-width="1.10"/>
<line x1="507.95" y1="56.29" x2="513.95" y2="56.29" stroke="#222" stroke-width="1.10"/>
<line x1="507.95" y1="63.52" x2="513.95" y2="63.52" stroke="#222" stroke-width="1.10"/>
<line x1="412.30" y1="120.20" x2="433.10" y2="120.20" stroke="#222" stroke-width="1.10"/>
<line x1="440.00" y1="120.20" x2="460.20" y2="120.20" stroke="#222" stroke-width="1.10"/>
<line x1="467.50" y1="120.20" x2="487.40" y2="120.20" stroke="#222" stroke-width="1.10"/>
<line x1="494.30" y1="120.20" x2="514.90" y2="120.20" stroke="#222" stroke-width="1.10"/>
<line x1="471.50" y1="12.50" x2="486.00" y2="12.50" stroke="#333" stroke-width="1.00"/>
<text x="478.75" y="15.10" font-size="12.00" fill="#2a2a2a" text-anchor="middle" textLength="14.20" lengthAdjust="spacingAndGlyphs" stroke="#2a2a2a" stroke-width="0.10">***</text>
<line x1="497.00" y1="12.50" x2="511.00" y2="12.50" stroke="#333" stroke-width="1.00"/>
<text x="504.00" y="15.10" font-size="12.00" fill="#2a2a2a" text-anchor="middle" textLength="14.20" lengthAdjust="spacingAndGlyphs" stroke="#2a2a2a" stroke-width="0.10">***</text>
<line x1="460.50" y1="22.50" x2="509.00" y2="22.50" stroke="#333" stroke-width="1.00"/>
<text x="485.00" y="25.10" font-size="12.00" fill="#2a2a2a" text-anchor="middle" textLength="14.20" lengthAdjust="spacingAndGlyphs" stroke="#2a2a2a" stroke-width="0.10">***</text>
<line x1="430.70" y1="30.50" x2="486.00" y2="30.50" stroke="#333" stroke-width="1.00"/>
<text x="456.00" y="33.10" font-size="12.00" fill="#2a2a2a" text-anchor="middle" textLength="9.40" lengthAdjust="spacingAndGlyphs" stroke="#2a2a2a" stroke-width="0.10">**</text>
<line x1="430.70" y1="38.50" x2="509.00" y2="38.50" stroke="#333" stroke-width="1.00"/>
<text x="471.00" y="41.10" font-size="12.00" fill="#2a2a2a" text-anchor="middle" textLength="14.20" lengthAdjust="spacingAndGlyphs" stroke="#2a2a2a" stroke-width="0.10">***</text>
<line x1="417.00" y1="45.50" x2="497.00" y2="45.50" stroke="#333" stroke-width="1.00"/>
<text x="455.00" y="48.10" font-size="12.00" fill="#2a2a2a" text-anchor="middle" textLength="4.60" lengthAdjust="spacingAndGlyphs" stroke="#2a2a2a" stroke-width="0.10">*</text>
<line x1="417.00" y1="54.50" x2="445.70" y2="54.50" stroke="#333" stroke-width="1.00"/>
<text x="432.00" y="57.10" font-size="12.00" fill="#2a2a2a" text-anchor="middle" textLength="4.60" lengthAdjust="spacingAndGlyphs" stroke="#2a2a2a" stroke-width="0.10">*</text>
<text x="431.60" y="129.00" font-size="9.90" text-anchor="end" transform="rotate(-45.0 431.60 129.00)" stroke="#231f20" stroke-width="0.10">CTL</text>
<text x="455.70" y="129.00" font-size="9.90" text-anchor="end" transform="rotate(-45.0 455.70 129.00)" stroke="#231f20" stroke-width="0.10">NHD13</text>
<text x="484.10" y="129.00" font-size="9.90" text-anchor="end" transform="rotate(-45.0 484.10 129.00)" stroke="#231f20" stroke-width="0.10">ITD</text>
<text x="509.50" y="129.00" font-size="9.90" text-anchor="end" transform="rotate(-45.0 509.50 129.00)" stroke="#231f20" stroke-width="0.10">ITD</text>
<text x="518.50" y="137.00" font-size="9.90" text-anchor="end" transform="rotate(-45.0 518.50 137.00)" stroke="#231f20" stroke-width="0.10">NHD13</text>
<text x="1.30" y="189.80" font-size="13.00" fill="#000" font-weight="bold" stroke="#000" stroke-width="0.10">D</text>
<text x="24.00" y="192.20" font-size="9.80" fill="#c42a40" textLength="38.50" lengthAdjust="spacingAndGlyphs" font-style="italic" stroke="#c42a40" stroke-width="0.05">Ifnar1 +/–</text>
<text x="24.00" y="204.00" font-size="9.80" fill="#2e66a0" textLength="37.50" lengthAdjust="spacingAndGlyphs" font-style="italic" stroke="#2e66a0" stroke-width="0.05">Ifnar1 –/–</text>
<line x1="40.50" y1="212.50" x2="40.50" y2="287.60" stroke="#3c3c3c" stroke-width="1.20"/>
<line x1="37.00" y1="287.00" x2="40.50" y2="287.00" stroke="#3c3c3c" stroke-width="1.20"/>
<text x="33.30" y="290.17" font-size="8.80" text-anchor="end" textLength="5.30" lengthAdjust="spacingAndGlyphs" stroke="#231f20" stroke-width="0.10">0</text>
<line x1="37.00" y1="272.60" x2="40.50" y2="272.60" stroke="#3c3c3c" stroke-width="1.20"/>
<text x="33.30" y="275.77" font-size="8.80" text-anchor="end" textLength="10.60" lengthAdjust="spacingAndGlyphs" stroke="#231f20" stroke-width="0.10">50</text>
<line x1="37.00" y1="258.20" x2="40.50" y2="258.20" stroke="#3c3c3c" stroke-width="1.20"/>
<text x="33.30" y="261.37" font-size="8.80" text-anchor="end" textLength="15.90" lengthAdjust="spacingAndGlyphs" stroke="#231f20" stroke-width="0.10">100</text>
<line x1="37.00" y1="243.80" x2="40.50" y2="243.80" stroke="#3c3c3c" stroke-width="1.20"/>
<text x="33.30" y="246.97" font-size="8.80" text-anchor="end" textLength="15.90" lengthAdjust="spacingAndGlyphs" stroke="#231f20" stroke-width="0.10">150</text>
<line x1="37.00" y1="229.40" x2="40.50" y2="229.40" stroke="#3c3c3c" stroke-width="1.20"/>
<text x="33.30" y="232.57" font-size="8.80" text-anchor="end" textLength="15.90" lengthAdjust="spacingAndGlyphs" stroke="#231f20" stroke-width="0.10">200</text>
<line x1="37.00" y1="215.00" x2="40.50" y2="215.00" stroke="#3c3c3c" stroke-width="1.20"/>
<text x="33.30" y="218.17" font-size="8.80" text-anchor="end" textLength="15.90" lengthAdjust="spacingAndGlyphs" stroke="#231f20" stroke-width="0.10">250</text>
<text x="9.30" y="248.25" font-size="9.50" text-anchor="middle" textLength="72.50" lengthAdjust="spacingAndGlyphs" transform="rotate(-90.0 9.30 248.25)" stroke="#231f20" stroke-width="0.10">P14 GMP (x1000)</text>
<line x1="39.90" y1="287.00" x2="148.00" y2="287.00" stroke="#3c3c3c" stroke-width="1.20"/>
<line x1="47.00" y1="287.00" x2="47.00" y2="290.20" stroke="#3c3c3c" stroke-width="1.10"/>
<line x1="60.45" y1="287.00" x2="60.45" y2="290.20" stroke="#3c3c3c" stroke-width="1.10"/>
<line x1="73.90" y1="287.00" x2="73.90" y2="290.20" stroke="#3c3c3c" stroke-width="1.10"/>
<line x1="87.35" y1="287.00" x2="87.35" y2="290.20" stroke="#3c3c3c" stroke-width="1.10"/>
<line x1="100.80" y1="287.00" x2="100.80" y2="290.20" stroke="#3c3c3c" stroke-width="1.10"/>
<line x1="114.25" y1="287.00" x2="114.25" y2="290.20" stroke="#3c3c3c" stroke-width="1.10"/>
<line x1="127.70" y1="287.00" x2="127.70" y2="290.20" stroke="#3c3c3c" stroke-width="1.10"/>
<line x1="141.15" y1="287.00" x2="141.15" y2="290.20" stroke="#3c3c3c" stroke-width="1.10"/>
<circle cx="47.00" cy="262.81" r="1.50" fill="#c4102f"/>
<circle cx="44.10" cy="264.54" r="1.50" fill="#c4102f"/>
<circle cx="47.00" cy="266.26" r="1.50" fill="#c4102f"/>
<circle cx="44.10" cy="267.99" r="1.50" fill="#c4102f"/>
<circle cx="49.90" cy="268.57" r="1.50" fill="#c4102f"/>
<circle cx="51.35" cy="269.00" r="1.50" fill="#c4102f"/>
<circle cx="47.00" cy="269.72" r="1.50" fill="#c4102f"/>
<circle cx="51.35" cy="270.30" r="1.50" fill="#c4102f"/>
<circle cx="44.10" cy="271.30" r="1.50" fill="#c4102f"/>
<circle cx="47.00" cy="273.18" r="1.50" fill="#c4102f"/>
<circle cx="44.10" cy="274.90" r="1.50" fill="#c4102f"/>
<circle cx="47.00" cy="279.51" r="1.50" fill="#c4102f"/>
<line x1="42.20" y1="270.30" x2="51.80" y2="270.30" stroke="#222" stroke-width="1.20"/>
<line x1="47.00" y1="269.14" x2="47.00" y2="271.45" stroke="#222" stroke-width="1.10"/>
<line x1="44.00" y1="269.14" x2="50.00" y2="269.14" stroke="#222" stroke-width="1.10"/>
<line x1="44.00" y1="271.45" x2="50.00" y2="271.45" stroke="#222" stroke-width="1.10"/>
<rect x="59.10" y="263.76" width="2.70" height="2.70" fill="#1c4e8a"/>
<rect x="56.20" y="265.35" width="2.70" height="2.70" fill="#1c4e8a"/>
<rect x="62.00" y="266.64" width="2.70" height="2.70" fill="#1c4e8a"/>
<rect x="59.10" y="267.65" width="2.70" height="2.70" fill="#1c4e8a"/>
<rect x="56.20" y="269.52" width="2.70" height="2.70" fill="#1c4e8a"/>
<rect x="59.10" y="270.67" width="2.70" height="2.70" fill="#1c4e8a"/>
<rect x="56.20" y="272.83" width="2.70" height="2.70" fill="#1c4e8a"/>
<rect x="59.10" y="279.31" width="2.70" height="2.70" fill="#1c4e8a"/>
<line x1="55.65" y1="272.02" x2="65.25" y2="272.02" stroke="#222" stroke-width="1.20"/>
<line x1="60.45" y1="270.30" x2="60.45" y2="273.75" stroke="#222" stroke-width="1.10"/>
<line x1="57.45" y1="270.30" x2="63.45" y2="270.30" stroke="#222" stroke-width="1.10"/>
<line x1="57.45" y1="273.75" x2="63.45" y2="273.75" stroke="#222" stroke-width="1.10"/>
<circle cx="73.90" cy="266.26" r="1.50" fill="#c4102f"/>
<circle cx="71.00" cy="267.99" r="1.50" fill="#c4102f"/>
<circle cx="73.90" cy="271.30" r="1.50" fill="#c4102f"/>
<circle cx="71.00" cy="274.18" r="1.50" fill="#c4102f"/>
<circle cx="73.90" cy="275.91" r="1.50" fill="#c4102f"/>
<circle cx="71.00" cy="278.36" r="1.50" fill="#c4102f"/>
<circle cx="73.90" cy="280.66" r="1.50" fill="#c4102f"/>
<line x1="69.10" y1="274.18" x2="78.70" y2="274.18" stroke="#222" stroke-width="1.20"/>
<line x1="73.90" y1="272.17" x2="73.90" y2="276.20" stroke="#222" stroke-width="1.10"/>
<line x1="70.90" y1="272.17" x2="76.90" y2="272.17" stroke="#222" stroke-width="1.10"/>
<line x1="70.90" y1="276.20" x2="76.90" y2="276.20" stroke="#222" stroke-width="1.10"/>
<rect x="86.00" y="268.37" width="2.70" height="2.70" fill="#1c4e8a"/>
<rect x="83.10" y="269.52" width="2.70" height="2.70" fill="#1c4e8a"/>
<rect x="88.90" y="270.67" width="2.70" height="2.70" fill="#1c4e8a"/>
<rect x="86.00" y="271.83" width="2.70" height="2.70" fill="#1c4e8a"/>
<rect x="83.10" y="273.55" width="2.70" height="2.70" fill="#1c4e8a"/>
<rect x="88.90" y="274.71" width="2.70" height="2.70" fill="#1c4e8a"/>
<rect x="86.00" y="276.43" width="2.70" height="2.70" fill="#1c4e8a"/>
<rect x="83.10" y="277.59" width="2.70" height="2.70" fill="#1c4e8a"/>
<line x1="82.55" y1="274.90" x2="92.15" y2="274.90" stroke="#222" stroke-width="1.20"/>
<line x1="87.35" y1="273.75" x2="87.35" y2="276.06" stroke="#222" stroke-width="1.10"/>
<line x1="84.35" y1="273.75" x2="90.35" y2="273.75" stroke="#222" stroke-width="1.10"/>
<line x1="84.35" y1="276.06" x2="90.35" y2="276.06" stroke="#222" stroke-width="1.10"/>
<circle cx="100.80" cy="257.91" r="1.50" fill="#c4102f"/>
<circle cx="100.80" cy="268.28" r="1.50" fill="#c4102f"/>
<circle cx="100.80" cy="272.31" r="1.50" fill="#c4102f"/>
<circle cx="97.90" cy="274.62" r="1.50" fill="#c4102f"/>
<circle cx="100.80" cy="276.34" r="1.50" fill="#c4102f"/>
<circle cx="97.90" cy="278.07" r="1.50" fill="#c4102f"/>
<circle cx="100.80" cy="279.80" r="1.50" fill="#c4102f"/>
<circle cx="97.90" cy="282.10" r="1.50" fill="#c4102f"/>
<line x1="96.00" y1="274.62" x2="105.60" y2="274.62" stroke="#222" stroke-width="1.20"/>
<line x1="100.80" y1="272.31" x2="100.80" y2="276.92" stroke="#222" stroke-width="1.10"/>
<line x1="97.80" y1="272.31" x2="103.80" y2="272.31" stroke="#222" stroke-width="1.10"/>
<line x1="97.80" y1="276.92" x2="103.80" y2="276.92" stroke="#222" stroke-width="1.10"/>
<rect x="112.90" y="253.11" width="2.70" height="2.70" fill="#1c4e8a"/>
<rect x="112.90" y="266.93" width="2.70" height="2.70" fill="#1c4e8a"/>
<rect x="110.00" y="268.66" width="2.70" height="2.70" fill="#1c4e8a"/>
<rect x="112.90" y="270.39" width="2.70" height="2.70" fill="#1c4e8a"/>
<rect x="110.00" y="272.11" width="2.70" height="2.70" fill="#1c4e8a"/>
<rect x="112.90" y="273.84" width="2.70" height="2.70" fill="#1c4e8a"/>
<rect x="110.00" y="275.57" width="2.70" height="2.70" fill="#1c4e8a"/>
<rect x="112.90" y="277.30" width="2.70" height="2.70" fill="#1c4e8a"/>
<line x1="109.45" y1="273.46" x2="119.05" y2="273.46" stroke="#222" stroke-width="1.20"/>
<line x1="114.25" y1="271.74" x2="114.25" y2="275.19" stroke="#222" stroke-width="1.10"/>
<line x1="111.25" y1="271.74" x2="117.25" y2="271.74" stroke="#222" stroke-width="1.10"/>
<line x1="111.25" y1="275.19" x2="117.25" y2="275.19" stroke="#222" stroke-width="1.10"/>
<circle cx="127.70" cy="254.46" r="1.50" fill="#c4102f"/>
<circle cx="124.80" cy="256.76" r="1.50" fill="#c4102f"/>
<circle cx="127.70" cy="259.06" r="1.50" fill="#c4102f"/>
<circle cx="124.80" cy="261.94" r="1.50" fill="#c4102f"/>
<circle cx="127.70" cy="263.67" r="1.50" fill="#c4102f"/>
<circle cx="130.60" cy="264.82" r="1.50" fill="#c4102f"/>
<circle cx="124.80" cy="266.55" r="1.50" fill="#c4102f"/>
<circle cx="127.70" cy="273.46" r="1.50" fill="#c4102f"/>
<line x1="122.90" y1="262.52" x2="132.50" y2="262.52" stroke="#222" stroke-width="1.20"/>
<line x1="127.70" y1="260.50" x2="127.70" y2="264.54" stroke="#222" stroke-width="1.10"/>
<line x1="124.70" y1="260.50" x2="130.70" y2="260.50" stroke="#222" stroke-width="1.10"/>
<line x1="124.70" y1="264.54" x2="130.70" y2="264.54" stroke="#222" stroke-width="1.10"/>
<rect x="139.80" y="230.64" width="2.70" height="2.70" fill="#1c4e8a"/>
<rect x="139.80" y="240.43" width="2.70" height="2.70" fill="#1c4e8a"/>
<rect x="136.90" y="241.01" width="2.70" height="2.70" fill="#1c4e8a"/>
<rect x="139.80" y="245.04" width="2.70" height="2.70" fill="#1c4e8a"/>
<rect x="139.80" y="250.80" width="2.70" height="2.70" fill="#1c4e8a"/>
<rect x="136.90" y="251.95" width="2.70" height="2.70" fill="#1c4e8a"/>
<rect x="142.70" y="251.95" width="2.70" height="2.70" fill="#1c4e8a"/>
<rect x="139.80" y="257.14" width="2.70" height="2.70" fill="#1c4e8a"/>
<rect x="139.80" y="261.75" width="2.70" height="2.70" fill="#1c4e8a"/>
<rect x="136.90" y="264.05" width="2.70" height="2.70" fill="#1c4e8a"/>
<rect x="139.80" y="267.51" width="2.70" height="2.70" fill="#1c4e8a"/>
<line x1="136.35" y1="252.73" x2="145.95" y2="252.73" stroke="#222" stroke-width="1.20"/>
<line x1="141.15" y1="249.27" x2="141.15" y2="256.18" stroke="#222" stroke-width="1.10"/>
<line x1="138.15" y1="249.27" x2="144.15" y2="249.27" stroke="#222" stroke-width="1.10"/>
<line x1="138.15" y1="256.18" x2="144.15" y2="256.18" stroke="#222" stroke-width="1.10"/>
<line x1="42.40" y1="295.20" x2="63.40" y2="295.20" stroke="#222" stroke-width="1.10"/>
<line x1="70.50" y1="295.20" x2="90.50" y2="295.20" stroke="#222" stroke-width="1.10"/>
<line x1="97.70" y1="295.20" x2="117.50" y2="295.20" stroke="#222" stroke-width="1.10"/>
<line x1="124.50" y1="295.20" x2="144.90" y2="295.20" stroke="#222" stroke-width="1.10"/>
<line x1="77.00" y1="193.50" x2="127.00" y2="193.50" stroke="#333" stroke-width="1.00"/>
<text x="99.50" y="196.10" font-size="12.00" fill="#2a2a2a" text-anchor="middle" textLength="4.60" lengthAdjust="spacingAndGlyphs" stroke="#2a2a2a" stroke-width="0.10">*</text>
<line x1="128.00" y1="189.50" x2="139.50" y2="189.50" stroke="#333" stroke-width="1.00"/>
<text x="134.00" y="192.10" font-size="12.00" fill="#2a2a2a" text-anchor="middle" textLength="4.60" lengthAdjust="spacingAndGlyphs" stroke="#2a2a2a" stroke-width="0.10">*</text>
<line x1="91.00" y1="202.50" x2="140.50" y2="202.50" stroke="#333" stroke-width="1.00"/>
<text x="117.00" y="205.10" font-size="12.00" fill="#2a2a2a" text-anchor="middle" textLength="14.20" lengthAdjust="spacingAndGlyphs" stroke="#2a2a2a" stroke-width="0.10">***</text>
<line x1="61.00" y1="210.50" x2="140.50" y2="210.50" stroke="#333" stroke-width="1.00"/>
<text x="99.50" y="213.10" font-size="12.00" fill="#2a2a2a" text-anchor="middle" textLength="14.20" lengthAdjust="spacingAndGlyphs" stroke="#2a2a2a" stroke-width="0.10">***</text>
<line x1="100.50" y1="218.50" x2="127.50" y2="218.50" stroke="#333" stroke-width="1.00"/>
<text x="113.00" y="221.10" font-size="12.00" fill="#2a2a2a" text-anchor="middle" textLength="9.40" lengthAdjust="spacingAndGlyphs" stroke="#2a2a2a" stroke-width="0.10">**</text>
<line x1="115.50" y1="225.50" x2="140.50" y2="225.50" stroke="#333" stroke-width="1.00"/>
<text x="132.75" y="228.10" font-size="12.00" fill="#2a2a2a" text-anchor="middle" textLength="14.20" lengthAdjust="spacingAndGlyphs" stroke="#2a2a2a" stroke-width="0.10">***</text>
<text x="61.80" y="304.00" font-size="9.90" text-anchor="end" transform="rotate(-45.0 61.80 304.00)" stroke="#231f20" stroke-width="0.10">CTL</text>
<text x="85.40" y="304.00" font-size="9.90" text-anchor="end" transform="rotate(-45.0 85.40 304.00)" stroke="#231f20" stroke-width="0.10">NHD13</text>
<text x="114.50" y="304.50" font-size="9.90" text-anchor="end" transform="rotate(-45.0 114.50 304.50)" stroke="#231f20" stroke-width="0.10">ITD</text>
<text x="139.90" y="304.50" font-size="9.90" text-anchor="end" transform="rotate(-45.0 139.90 304.50)" stroke="#231f20" stroke-width="0.10">ITD</text>
<text x="149.20" y="312.00" font-size="9.90" text-anchor="end" transform="rotate(-45.0 149.20 312.00)" stroke="#231f20" stroke-width="0.10">NHD13</text>
<text x="184.80" y="189.80" font-size="13.00" fill="#000" font-weight="bold" stroke="#000" stroke-width="0.10">E</text>
<text x="226.00" y="190.30" font-size="9.80" fill="#c42a40" textLength="40.00" lengthAdjust="spacingAndGlyphs" font-style="italic" stroke="#c42a40" stroke-width="0.05">Ifnar1 +/–</text>
<text x="226.00" y="201.50" font-size="9.80" fill="#2e66a0" textLength="38.00" lengthAdjust="spacingAndGlyphs" font-style="italic" stroke="#2e66a0" stroke-width="0.05">Ifnar1 –/–</text>
<rect x="226.30" y="248.87" width="7.80" height="38.13" fill="#e2705f"/>
<rect x="237.20" y="256.77" width="7.90" height="30.23" fill="#6b83b6"/>
<rect x="256.40" y="273.67" width="7.50" height="13.33" fill="#e2705f"/>
<rect x="267.20" y="276.77" width="8.00" height="10.23" fill="#6b83b6"/>
<rect x="285.80" y="249.95" width="7.80" height="37.05" fill="#e2705f"/>
<rect x="297.00" y="243.29" width="7.90" height="43.71" fill="#6b83b6"/>
<rect x="315.80" y="253.68" width="7.90" height="33.32" fill="#e2705f"/>
<rect x="327.40" y="279.10" width="7.90" height="7.90" fill="#6b83b6"/>
<line x1="230.20" y1="222.06" x2="230.20" y2="275.69" stroke="#c4102f" stroke-width="1.00"/>
<line x1="227.80" y1="222.06" x2="232.60" y2="222.06" stroke="#c4102f" stroke-width="1.00"/>
<circle cx="230.20" cy="218.33" r="1.40" fill="#c4102f"/>
<circle cx="230.20" cy="225.78" r="1.40" fill="#c4102f"/>
<circle cx="230.20" cy="229.34" r="1.40" fill="#c4102f"/>
<circle cx="230.20" cy="264.52" r="1.40" fill="#c4102f"/>
<circle cx="230.20" cy="273.67" r="1.40" fill="#c4102f"/>
<circle cx="226.30" cy="276.15" r="1.40" fill="#c4102f"/>
<line x1="241.15" y1="238.49" x2="241.15" y2="274.60" stroke="#1c4e8a" stroke-width="1.00"/>
<line x1="238.75" y1="238.49" x2="243.55" y2="238.49" stroke="#1c4e8a" stroke-width="1.00"/>
<circle cx="241.15" cy="226.86" r="1.40" fill="#1c4e8a"/>
<circle cx="241.15" cy="249.34" r="1.40" fill="#1c4e8a"/>
<circle cx="237.25" cy="250.57" r="1.40" fill="#1c4e8a"/>
<circle cx="241.15" cy="262.05" r="1.40" fill="#1c4e8a"/>
<circle cx="241.15" cy="271.81" r="1.40" fill="#1c4e8a"/>
<circle cx="237.25" cy="273.67" r="1.40" fill="#1c4e8a"/>
<line x1="260.15" y1="261.58" x2="260.15" y2="285.45" stroke="#c4102f" stroke-width="1.00"/>
<line x1="257.75" y1="261.58" x2="262.55" y2="261.58" stroke="#c4102f" stroke-width="1.00"/>
<circle cx="260.15" cy="262.20" r="1.40" fill="#c4102f"/>
<circle cx="260.15" cy="268.87" r="1.40" fill="#c4102f"/>
<circle cx="260.15" cy="276.77" r="1.40" fill="#c4102f"/>
<circle cx="260.15" cy="283.44" r="1.40" fill="#c4102f"/>
<line x1="271.20" y1="269.95" x2="271.20" y2="283.12" stroke="#1c4e8a" stroke-width="1.00"/>
<line x1="268.80" y1="269.95" x2="273.60" y2="269.95" stroke="#1c4e8a" stroke-width="1.00"/>
<circle cx="271.20" cy="267.00" r="1.40" fill="#1c4e8a"/>
<circle cx="271.20" cy="271.19" r="1.40" fill="#1c4e8a"/>
<circle cx="271.20" cy="274.29" r="1.40" fill="#1c4e8a"/>
<circle cx="271.20" cy="277.86" r="1.40" fill="#1c4e8a"/>
<circle cx="271.20" cy="280.95" r="1.40" fill="#1c4e8a"/>
<circle cx="267.30" cy="283.44" r="1.40" fill="#1c4e8a"/>
<line x1="289.70" y1="245.77" x2="289.70" y2="254.14" stroke="#c4102f" stroke-width="1.00"/>
<line x1="287.30" y1="245.77" x2="292.10" y2="245.77" stroke="#c4102f" stroke-width="1.00"/>
<circle cx="289.70" cy="241.59" r="1.40" fill="#c4102f"/>
<circle cx="289.70" cy="245.15" r="1.40" fill="#c4102f"/>
<circle cx="285.80" cy="246.85" r="1.40" fill="#c4102f"/>
<circle cx="289.70" cy="252.44" r="1.40" fill="#c4102f"/>
<circle cx="285.80" cy="253.68" r="1.40" fill="#c4102f"/>
<circle cx="289.70" cy="255.38" r="1.40" fill="#c4102f"/>
<circle cx="285.80" cy="256.77" r="1.40" fill="#c4102f"/>
<line x1="300.95" y1="234.15" x2="300.95" y2="251.35" stroke="#1c4e8a" stroke-width="1.00"/>
<line x1="298.55" y1="234.15" x2="303.35" y2="234.15" stroke="#1c4e8a" stroke-width="1.00"/>
<circle cx="300.95" cy="231.05" r="1.40" fill="#1c4e8a"/>
<circle cx="300.95" cy="238.95" r="1.40" fill="#1c4e8a"/>
<circle cx="297.05" cy="241.43" r="1.40" fill="#1c4e8a"/>
<circle cx="300.95" cy="243.91" r="1.40" fill="#1c4e8a"/>
<circle cx="297.05" cy="246.24" r="1.40" fill="#1c4e8a"/>
<circle cx="300.95" cy="249.34" r="1.40" fill="#1c4e8a"/>
<circle cx="300.95" cy="252.44" r="1.40" fill="#1c4e8a"/>
<line x1="319.75" y1="245.77" x2="319.75" y2="260.65" stroke="#c4102f" stroke-width="1.00"/>
<line x1="317.35" y1="245.77" x2="322.15" y2="245.77" stroke="#c4102f" stroke-width="1.00"/>
<circle cx="319.75" cy="242.67" r="1.40" fill="#c4102f"/>
<circle cx="315.85" cy="243.91" r="1.40" fill="#c4102f"/>
<circle cx="323.65" cy="245.15" r="1.40" fill="#c4102f"/>
<circle cx="319.75" cy="249.34" r="1.40" fill="#c4102f"/>
<circle cx="319.75" cy="253.68" r="1.40" fill="#c4102f"/>
<circle cx="315.85" cy="256.00" r="1.40" fill="#c4102f"/>
<circle cx="319.75" cy="258.48" r="1.40" fill="#c4102f"/>
<circle cx="315.85" cy="260.96" r="1.40" fill="#c4102f"/>
<line x1="331.35" y1="265.14" x2="331.35" y2="286.23" stroke="#1c4e8a" stroke-width="1.00"/>
<line x1="328.95" y1="265.14" x2="333.75" y2="265.14" stroke="#1c4e8a" stroke-width="1.00"/>
<circle cx="331.35" cy="265.14" r="1.40" fill="#1c4e8a"/>
<circle cx="331.35" cy="285.45" r="1.40" fill="#1c4e8a"/>
<line x1="222.20" y1="206.50" x2="222.20" y2="287.60" stroke="#3c3c3c" stroke-width="1.20"/>
<line x1="218.70" y1="287.00" x2="222.20" y2="287.00" stroke="#3c3c3c" stroke-width="1.20"/>
<text x="214.90" y="290.17" font-size="8.80" text-anchor="end" textLength="5.10" lengthAdjust="spacingAndGlyphs" stroke="#231f20" stroke-width="0.10">0</text>
<line x1="218.70" y1="271.50" x2="222.20" y2="271.50" stroke="#3c3c3c" stroke-width="1.20"/>
<text x="214.90" y="274.67" font-size="8.80" text-anchor="end" textLength="15.30" lengthAdjust="spacingAndGlyphs" stroke="#231f20" stroke-width="0.10">100</text>
<line x1="218.70" y1="256.00" x2="222.20" y2="256.00" stroke="#3c3c3c" stroke-width="1.20"/>
<text x="214.90" y="259.17" font-size="8.80" text-anchor="end" textLength="15.30" lengthAdjust="spacingAndGlyphs" stroke="#231f20" stroke-width="0.10">200</text>
<line x1="218.70" y1="240.50" x2="222.20" y2="240.50" stroke="#3c3c3c" stroke-width="1.20"/>
<text x="214.90" y="243.67" font-size="8.80" text-anchor="end" textLength="15.30" lengthAdjust="spacingAndGlyphs" stroke="#231f20" stroke-width="0.10">300</text>
<line x1="218.70" y1="225.00" x2="222.20" y2="225.00" stroke="#3c3c3c" stroke-width="1.20"/>
<text x="214.90" y="228.17" font-size="8.80" text-anchor="end" textLength="15.30" lengthAdjust="spacingAndGlyphs" stroke="#231f20" stroke-width="0.10">400</text>
<line x1="218.70" y1="209.50" x2="222.20" y2="209.50" stroke="#3c3c3c" stroke-width="1.20"/>
<text x="214.90" y="212.67" font-size="8.80" text-anchor="end" textLength="15.30" lengthAdjust="spacingAndGlyphs" stroke="#231f20" stroke-width="0.10">500</text>
<text x="191.80" y="244.60" font-size="9.50" text-anchor="middle" textLength="87.50" lengthAdjust="spacingAndGlyphs" transform="rotate(-90.0 191.80 244.60)" stroke="#231f20" stroke-width="0.10">CFU (per 1000 MPPs)</text>
<line x1="222.40" y1="287.00" x2="337.50" y2="287.00" stroke="#3c3c3c" stroke-width="1.20"/>
<line x1="236.00" y1="287.00" x2="236.00" y2="290.20" stroke="#3c3c3c" stroke-width="1.10"/>
<line x1="265.50" y1="287.00" x2="265.50" y2="290.20" stroke="#3c3c3c" stroke-width="1.10"/>
<line x1="295.50" y1="287.00" x2="295.50" y2="290.20" stroke="#3c3c3c" stroke-width="1.10"/>
<line x1="325.50" y1="287.00" x2="325.50" y2="290.20" stroke="#3c3c3c" stroke-width="1.10"/>
<line x1="224.70" y1="293.10" x2="245.30" y2="293.10" stroke="#222" stroke-width="1.10"/>
<line x1="255.50" y1="293.10" x2="276.20" y2="293.10" stroke="#222" stroke-width="1.10"/>
<line x1="284.70" y1="293.10" x2="304.90" y2="293.10" stroke="#222" stroke-width="1.10"/>
<line x1="314.70" y1="293.10" x2="335.30" y2="293.10" stroke="#222" stroke-width="1.10"/>
<line x1="321.30" y1="221.50" x2="333.40" y2="221.50" stroke="#333" stroke-width="1.00"/>
<text x="327.50" y="224.10" font-size="12.00" fill="#2a2a2a" text-anchor="middle" textLength="14.20" lengthAdjust="spacingAndGlyphs" stroke="#2a2a2a" stroke-width="0.10">***</text>
<text x="244.20" y="301.70" font-size="9.90" text-anchor="end" transform="rotate(-45.0 244.20 301.70)" stroke="#231f20" stroke-width="0.10">CTL</text>
<text x="272.90" y="301.70" font-size="9.90" text-anchor="end" transform="rotate(-45.0 272.90 301.70)" stroke="#231f20" stroke-width="0.10">NHD13</text>
<text x="301.80" y="302.50" font-size="9.90" text-anchor="end" transform="rotate(-45.0 301.80 302.50)" stroke="#231f20" stroke-width="0.10">ITD</text>
<text x="326.00" y="302.50" font-size="9.90" text-anchor="end" transform="rotate(-45.0 326.00 302.50)" stroke="#231f20" stroke-width="0.10">ITD</text>
<text x="335.20" y="310.00" font-size="9.90" text-anchor="end" transform="rotate(-45.0 335.20 310.00)" stroke="#231f20" stroke-width="0.10">NHD13</text>
<text x="371.50" y="189.30" font-size="13.00" fill="#000" font-weight="bold" stroke="#000" stroke-width="0.10">F</text>
<text x="406.00" y="196.30" font-size="9.80" fill="#c42a40" textLength="105.00" lengthAdjust="spacingAndGlyphs" font-style="italic" stroke="#c42a40" stroke-width="0.05">ITD/+; NHD13; Ifnar1 +/–</text>
<text x="406.00" y="207.00" font-size="9.80" fill="#2e66a0" textLength="103.00" lengthAdjust="spacingAndGlyphs" font-style="italic" stroke="#2e66a0" stroke-width="0.05">ITD/+; NHD13; Ifnar1 –/–</text>
<line x1="410.00" y1="214.20" x2="410.00" y2="287.60" stroke="#3c3c3c" stroke-width="1.20"/>
<line x1="406.50" y1="287.00" x2="410.00" y2="287.00" stroke="#3c3c3c" stroke-width="1.20"/>
<text x="402.40" y="290.17" font-size="8.80" text-anchor="end" textLength="4.80" lengthAdjust="spacingAndGlyphs" stroke="#231f20" stroke-width="0.10">0</text>
<line x1="406.50" y1="273.10" x2="410.00" y2="273.10" stroke="#3c3c3c" stroke-width="1.20"/>
<text x="402.40" y="276.27" font-size="8.80" text-anchor="end" textLength="9.60" lengthAdjust="spacingAndGlyphs" stroke="#231f20" stroke-width="0.10">20</text>
<line x1="406.50" y1="259.20" x2="410.00" y2="259.20" stroke="#3c3c3c" stroke-width="1.20"/>
<text x="402.40" y="262.37" font-size="8.80" text-anchor="end" textLength="9.60" lengthAdjust="spacingAndGlyphs" stroke="#231f20" stroke-width="0.10">40</text>
<line x1="406.50" y1="245.30" x2="410.00" y2="245.30" stroke="#3c3c3c" stroke-width="1.20"/>
<text x="402.40" y="248.47" font-size="8.80" text-anchor="end" textLength="9.60" lengthAdjust="spacingAndGlyphs" stroke="#231f20" stroke-width="0.10">60</text>
<line x1="406.50" y1="231.40" x2="410.00" y2="231.40" stroke="#3c3c3c" stroke-width="1.20"/>
<text x="402.40" y="234.57" font-size="8.80" text-anchor="end" textLength="9.60" lengthAdjust="spacingAndGlyphs" stroke="#231f20" stroke-width="0.10">80</text>
<line x1="406.50" y1="217.50" x2="410.00" y2="217.50" stroke="#3c3c3c" stroke-width="1.20"/>
<text x="402.40" y="220.67" font-size="8.80" text-anchor="end" textLength="14.40" lengthAdjust="spacingAndGlyphs" stroke="#231f20" stroke-width="0.10">100</text>
<text x="379.80" y="248.90" font-size="11.00" text-anchor="middle" textLength="89.00" lengthAdjust="spacingAndGlyphs" transform="rotate(-90.0 379.80 248.90)" stroke="#231f20" stroke-width="0.10">CD45.2 chimerism (%)</text>
<line x1="408.90" y1="287.00" x2="513.00" y2="287.00" stroke="#3c3c3c" stroke-width="1.20"/>
<line x1="423.00" y1="287.00" x2="423.00" y2="290.20" stroke="#3c3c3c" stroke-width="1.10"/>
<line x1="449.00" y1="287.00" x2="449.00" y2="290.20" stroke="#3c3c3c" stroke-width="1.10"/>
<line x1="474.50" y1="287.00" x2="474.50" y2="290.20" stroke="#3c3c3c" stroke-width="1.10"/>
<line x1="500.40" y1="287.00" x2="500.40" y2="290.20" stroke="#3c3c3c" stroke-width="1.10"/>
<text x="423.00" y="303.20" font-size="9.30" text-anchor="middle" stroke="#231f20" stroke-width="0.10">4</text>
<text x="449.00" y="303.20" font-size="9.30" text-anchor="middle" stroke="#231f20" stroke-width="0.10">8</text>
<text x="474.50" y="303.20" font-size="9.30" text-anchor="middle" stroke="#231f20" stroke-width="0.10">12</text>
<text x="500.40" y="303.20" font-size="9.30" text-anchor="middle" stroke="#231f20" stroke-width="0.10">16</text>
<text x="416.00" y="318.00" font-size="10.80" textLength="91.00" lengthAdjust="spacingAndGlyphs" stroke="#231f20" stroke-width="0.10">Weeks post-transplant</text>
<line x1="423.00" y1="246.69" x2="423.00" y2="252.25" stroke="#c4102f" stroke-width="1.00"/>
<line x1="420.80" y1="246.69" x2="425.20" y2="246.69" stroke="#c4102f" stroke-width="1.00"/>
<line x1="449.00" y1="251.56" x2="449.00" y2="261.29" stroke="#c4102f" stroke-width="1.00"/>
<line x1="446.80" y1="251.56" x2="451.20" y2="251.56" stroke="#c4102f" stroke-width="1.00"/>
<line x1="474.50" y1="250.16" x2="474.50" y2="261.29" stroke="#c4102f" stroke-width="1.00"/>
<line x1="472.30" y1="250.16" x2="476.70" y2="250.16" stroke="#c4102f" stroke-width="1.00"/>
<line x1="500.40" y1="251.56" x2="500.40" y2="261.29" stroke="#c4102f" stroke-width="1.00"/>
<line x1="498.20" y1="251.56" x2="502.60" y2="251.56" stroke="#c4102f" stroke-width="1.00"/>
<line x1="474.50" y1="262.68" x2="474.50" y2="270.32" stroke="#1c4e8a" stroke-width="1.00"/>
<line x1="472.30" y1="262.68" x2="476.70" y2="262.68" stroke="#1c4e8a" stroke-width="1.00"/>
<line x1="500.40" y1="260.59" x2="500.40" y2="264.76" stroke="#1c4e8a" stroke-width="1.00"/>
<line x1="498.20" y1="260.59" x2="502.60" y2="260.59" stroke="#1c4e8a" stroke-width="1.00"/>
<path d="M423.00 257.12 L449.00 270.32 L474.50 270.32 L500.40 264.76" fill="none" stroke="#1c4e8a" stroke-width="1.40"/>
<path d="M423.00 252.25 L449.00 261.29 L474.50 261.29 L500.40 261.29" fill="none" stroke="#c4102f" stroke-width="1.40"/>
<circle cx="423.00" cy="257.12" r="1.50" fill="#1c4e8a"/>
<circle cx="449.00" cy="270.32" r="1.50" fill="#1c4e8a"/>
<circle cx="474.50" cy="270.32" r="1.50" fill="#1c4e8a"/>
<circle cx="500.40" cy="264.76" r="1.50" fill="#1c4e8a"/>
<circle cx="423.00" cy="252.25" r="1.50" fill="#c4102f"/>
<circle cx="449.00" cy="261.29" r="1.50" fill="#c4102f"/>
<circle cx="474.50" cy="261.29" r="1.50" fill="#c4102f"/>
<circle cx="500.40" cy="261.29" r="1.50" fill="#c4102f"/>
<text x="2.30" y="363.20" font-size="13.00" fill="#000" font-weight="bold" stroke="#000" stroke-width="0.10">G</text>
<text x="32.9" y="362.6" font-size="10.5" stroke="#231f20" stroke-width="0.1" textLength="220.8" lengthAdjust="spacingAndGlyphs">All donors: ITD/+; NHD13: <tspan font-style="italic">Ifnar</tspan> +/– or –/–</text>
<line x1="35.40" y1="369.50" x2="250.00" y2="369.50" stroke="#222" stroke-width="1.00"/>
<text x="10.40" y="432.75" font-size="11.00" text-anchor="middle" textLength="79.50" lengthAdjust="spacingAndGlyphs" transform="rotate(-90.0 10.40 432.75)" stroke="#231f20" stroke-width="0.10">% Not reconstituted</text>
<text x="160.80" y="432.65" font-size="11.00" text-anchor="middle" textLength="79.50" lengthAdjust="spacingAndGlyphs" transform="rotate(-90.0 160.80 432.65)" stroke="#231f20" stroke-width="0.10">% Not reconstituted</text>
<text x="47.70" y="382.70" font-size="10.50" textLength="67.90" lengthAdjust="spacingAndGlyphs" stroke="#231f20" stroke-width="0.10">Multi-lineage</text>
<line x1="40.00" y1="391.50" x2="40.00" y2="476.10" stroke="#3c3c3c" stroke-width="1.20"/>
<line x1="36.50" y1="394.00" x2="40.00" y2="394.00" stroke="#3c3c3c" stroke-width="1.20"/>
<text x="32.60" y="397.17" font-size="8.80" text-anchor="end" textLength="14.70" lengthAdjust="spacingAndGlyphs" stroke="#231f20" stroke-width="0.10">100</text>
<line x1="36.50" y1="411.60" x2="40.00" y2="411.60" stroke="#3c3c3c" stroke-width="1.20"/>
<text x="32.60" y="414.76" font-size="8.80" text-anchor="end" textLength="9.80" lengthAdjust="spacingAndGlyphs" stroke="#231f20" stroke-width="0.10">37</text>
<line x1="36.50" y1="434.75" x2="40.00" y2="434.75" stroke="#3c3c3c" stroke-width="1.20"/>
<text x="32.60" y="437.92" font-size="8.80" text-anchor="end" textLength="9.80" lengthAdjust="spacingAndGlyphs" stroke="#231f20" stroke-width="0.10">10</text>
<line x1="36.50" y1="475.50" x2="40.00" y2="475.50" stroke="#3c3c3c" stroke-width="1.20"/>
<text x="32.60" y="478.67" font-size="8.80" text-anchor="end" textLength="4.90" lengthAdjust="spacingAndGlyphs" stroke="#231f20" stroke-width="0.10">1</text>
<line x1="39.40" y1="475.50" x2="122.00" y2="475.50" stroke="#3c3c3c" stroke-width="1.20"/>
<line x1="40.00" y1="475.50" x2="40.00" y2="478.70" stroke="#3c3c3c" stroke-width="1.10"/>
<line x1="77.50" y1="475.50" x2="77.50" y2="478.70" stroke="#3c3c3c" stroke-width="1.10"/>
<line x1="115.00" y1="475.50" x2="115.00" y2="478.70" stroke="#3c3c3c" stroke-width="1.10"/>
<text x="40.00" y="491.20" font-size="9.30" text-anchor="middle" stroke="#231f20" stroke-width="0.10">0</text>
<text x="77.50" y="491.20" font-size="9.30" text-anchor="middle" stroke="#231f20" stroke-width="0.10">50</text>
<text x="115.00" y="491.20" font-size="9.30" text-anchor="middle" stroke="#231f20" stroke-width="0.10">100</text>
<line x1="41.00" y1="411.50" x2="122.00" y2="411.50" stroke="#222" stroke-width="1.00" stroke-dasharray="1.2,1.3"/>
<path d="M40.50 394.00 L119.00 437.50" fill="none" stroke="#c4102f" stroke-width="1.20"/>
<path d="M40.50 394.00 L124.00 425.50" fill="none" stroke="#1c4e8a" stroke-width="1.20"/>
<circle cx="62.50" cy="410.00" r="1.40" fill="#c4102f"/>
<circle cx="115.00" cy="433.80" r="1.40" fill="#c4102f"/>
<rect x="46.00" y="393.00" width="3.00" height="3.00" fill="#1c4e8a"/>
<rect x="61.00" y="397.50" width="3.00" height="3.00" fill="#1c4e8a"/>
<rect x="113.50" y="420.30" width="3.00" height="3.00" fill="#1c4e8a"/>
<text x="78.00" y="435.20" font-size="8.60" textLength="17.00" lengthAdjust="spacingAndGlyphs" stroke="#231f20" stroke-width="0.10">N.S.</text>
<text x="45.00" y="459.00" font-size="10.00" fill="#c42a40" textLength="40.00" lengthAdjust="spacingAndGlyphs" font-style="italic" stroke="#c42a40" stroke-width="0.05">Ifnar1 +/–</text>
<text x="45.00" y="471.00" font-size="10.00" fill="#2e66a0" textLength="39.00" lengthAdjust="spacingAndGlyphs" font-style="italic" stroke="#2e66a0" stroke-width="0.05">Ifnar1 –/–</text>
<text x="28.10" y="507.00" font-size="11.00" textLength="107.30" lengthAdjust="spacingAndGlyphs" stroke="#231f20" stroke-width="0.10">Cells transplanted (x1000)</text>
<text x="211.00" y="382.70" font-size="10.50" textLength="43.00" lengthAdjust="spacingAndGlyphs" stroke="#231f20" stroke-width="0.10">Myeloid</text>
<line x1="191.20" y1="391.50" x2="191.20" y2="476.10" stroke="#3c3c3c" stroke-width="1.20"/>
<line x1="187.70" y1="394.00" x2="191.20" y2="394.00" stroke="#3c3c3c" stroke-width="1.20"/>
<text x="182.50" y="397.17" font-size="8.80" text-anchor="end" textLength="14.70" lengthAdjust="spacingAndGlyphs" stroke="#231f20" stroke-width="0.10">100</text>
<line x1="187.70" y1="411.60" x2="191.20" y2="411.60" stroke="#3c3c3c" stroke-width="1.20"/>
<text x="182.50" y="414.76" font-size="8.80" text-anchor="end" textLength="9.80" lengthAdjust="spacingAndGlyphs" stroke="#231f20" stroke-width="0.10">37</text>
<line x1="187.70" y1="434.75" x2="191.20" y2="434.75" stroke="#3c3c3c" stroke-width="1.20"/>
<text x="182.50" y="437.92" font-size="8.80" text-anchor="end" textLength="9.80" lengthAdjust="spacingAndGlyphs" stroke="#231f20" stroke-width="0.10">10</text>
<line x1="187.70" y1="475.50" x2="191.20" y2="475.50" stroke="#3c3c3c" stroke-width="1.20"/>
<text x="182.50" y="478.67" font-size="8.80" text-anchor="end" textLength="4.90" lengthAdjust="spacingAndGlyphs" stroke="#231f20" stroke-width="0.10">1</text>
<line x1="190.60" y1="475.50" x2="273.20" y2="475.50" stroke="#3c3c3c" stroke-width="1.20"/>
<line x1="191.20" y1="475.50" x2="191.20" y2="478.70" stroke="#3c3c3c" stroke-width="1.10"/>
<line x1="228.70" y1="475.50" x2="228.70" y2="478.70" stroke="#3c3c3c" stroke-width="1.10"/>
<line x1="266.20" y1="475.50" x2="266.20" y2="478.70" stroke="#3c3c3c" stroke-width="1.10"/>
<text x="191.20" y="491.20" font-size="9.30" text-anchor="middle" stroke="#231f20" stroke-width="0.10">0</text>
<text x="228.70" y="491.20" font-size="9.30" text-anchor="middle" stroke="#231f20" stroke-width="0.10">50</text>
<text x="266.20" y="491.20" font-size="9.30" text-anchor="middle" stroke="#231f20" stroke-width="0.10">100</text>
<line x1="192.20" y1="411.50" x2="273.20" y2="411.50" stroke="#222" stroke-width="1.00" stroke-dasharray="1.2,1.3"/>
<path d="M191.25 394.00 L270.80 457.00" fill="none" stroke="#c4102f" stroke-width="1.20"/>
<path d="M191.25 394.00 L269.50 475.50" fill="none" stroke="#1c4e8a" stroke-width="1.20"/>
<circle cx="198.00" cy="405.00" r="1.40" fill="#c4102f"/>
<circle cx="266.00" cy="434.60" r="1.40" fill="#c4102f"/>
<rect x="196.50" y="399.50" width="3.00" height="3.00" fill="#1c4e8a"/>
<rect x="264.00" y="473.00" width="3.00" height="3.00" fill="#1c4e8a"/>
<text x="242.50" y="427.60" font-size="8.60" textLength="17.00" lengthAdjust="spacingAndGlyphs" stroke="#231f20" stroke-width="0.10">N.S.</text>
<text x="196.00" y="459.00" font-size="10.00" fill="#c42a40" textLength="40.00" lengthAdjust="spacingAndGlyphs" font-style="italic" stroke="#c42a40" stroke-width="0.05">Ifnar1 +/–</text>
<text x="196.00" y="471.00" font-size="10.00" fill="#2e66a0" textLength="39.00" lengthAdjust="spacingAndGlyphs" font-style="italic" stroke="#2e66a0" stroke-width="0.05">Ifnar1 –/–</text>
<text x="178.50" y="507.00" font-size="11.00" textLength="106.00" lengthAdjust="spacingAndGlyphs" stroke="#231f20" stroke-width="0.10">Cells transplanted (x1000)</text>
<circle cx="213.00" cy="415.00" r="1.60" fill="#5a2040"/>
<text x="339.50" y="363.20" font-size="13.00" fill="#000" font-weight="bold" stroke="#000" stroke-width="0.10">H</text>
<line x1="423.75" y1="372.70" x2="438.60" y2="372.70" stroke="#c4102f" stroke-width="1.40"/>
<line x1="423.75" y1="384.30" x2="438.60" y2="384.30" stroke="#1c4e8a" stroke-width="1.40"/>
<line x1="423.75" y1="396.40" x2="438.60" y2="396.40" stroke="#c4102f" stroke-width="1.40" stroke-dasharray="3,3"/>
<line x1="423.75" y1="407.60" x2="438.60" y2="407.60" stroke="#1c4e8a" stroke-width="1.40" stroke-dasharray="3,3"/>
<text x="443.8" y="376.2" font-size="10" fill="#c42a40" stroke="#c42a40" stroke-width="0.1" textLength="70" lengthAdjust="spacingAndGlyphs">pGMP <tspan font-style="italic">Ifnar1</tspan> +/–</text>
<text x="443.8" y="387.8" font-size="10" fill="#2e66a0" stroke="#2e66a0" stroke-width="0.1" textLength="68.5" lengthAdjust="spacingAndGlyphs">pGMP <tspan font-style="italic">Ifnar1</tspan> –/–</text>
<text x="444.3" y="399.9" font-size="10" fill="#c42a40" stroke="#c42a40" stroke-width="0.1" textLength="64" lengthAdjust="spacingAndGlyphs">GMP <tspan font-style="italic">Ifnar1</tspan> +/–</text>
<text x="444.3" y="411.1" font-size="10" fill="#2e66a0" stroke="#2e66a0" stroke-width="0.1" textLength="62.5" lengthAdjust="spacingAndGlyphs">GMP <tspan font-style="italic">Ifnar1</tspan> –/–</text>
<line x1="372.00" y1="403.00" x2="372.00" y2="476.10" stroke="#3c3c3c" stroke-width="1.20"/>
<line x1="368.50" y1="475.50" x2="372.00" y2="475.50" stroke="#3c3c3c" stroke-width="1.20"/>
<text x="364.40" y="478.67" font-size="8.80" text-anchor="end" textLength="5.00" lengthAdjust="spacingAndGlyphs" stroke="#231f20" stroke-width="0.10">0</text>
<line x1="368.50" y1="452.10" x2="372.00" y2="452.10" stroke="#3c3c3c" stroke-width="1.20"/>
<text x="364.40" y="455.27" font-size="8.80" text-anchor="end" textLength="10.00" lengthAdjust="spacingAndGlyphs" stroke="#231f20" stroke-width="0.10">20</text>
<line x1="368.50" y1="428.70" x2="372.00" y2="428.70" stroke="#3c3c3c" stroke-width="1.20"/>
<text x="364.40" y="431.87" font-size="8.80" text-anchor="end" textLength="10.00" lengthAdjust="spacingAndGlyphs" stroke="#231f20" stroke-width="0.10">40</text>
<line x1="368.50" y1="405.30" x2="372.00" y2="405.30" stroke="#3c3c3c" stroke-width="1.20"/>
<text x="364.40" y="408.47" font-size="8.80" text-anchor="end" textLength="10.00" lengthAdjust="spacingAndGlyphs" stroke="#231f20" stroke-width="0.10">60</text>
<text x="347.20" y="438.90" font-size="11.00" text-anchor="middle" textLength="90.50" lengthAdjust="spacingAndGlyphs" transform="rotate(-90.0 347.20 438.90)" stroke="#231f20" stroke-width="0.10">CD45.2 chimerism (%)</text>
<line x1="369.90" y1="475.50" x2="468.00" y2="475.50" stroke="#3c3c3c" stroke-width="1.20"/>
<line x1="385.00" y1="475.50" x2="385.00" y2="478.70" stroke="#3c3c3c" stroke-width="1.10"/>
<line x1="410.80" y1="475.50" x2="410.80" y2="478.70" stroke="#3c3c3c" stroke-width="1.10"/>
<line x1="436.60" y1="475.50" x2="436.60" y2="478.70" stroke="#3c3c3c" stroke-width="1.10"/>
<line x1="463.00" y1="475.50" x2="463.00" y2="478.70" stroke="#3c3c3c" stroke-width="1.10"/>
<text x="385.00" y="491.20" font-size="9.30" text-anchor="middle" stroke="#231f20" stroke-width="0.10">4</text>
<text x="410.80" y="491.20" font-size="9.30" text-anchor="middle" stroke="#231f20" stroke-width="0.10">8</text>
<text x="436.60" y="491.20" font-size="9.30" text-anchor="middle" stroke="#231f20" stroke-width="0.10">12</text>
<text x="463.00" y="491.20" font-size="9.30" text-anchor="middle" stroke="#231f20" stroke-width="0.10">16</text>
<text x="378.90" y="507.30" font-size="10.80" textLength="90.00" lengthAdjust="spacingAndGlyphs" stroke="#231f20" stroke-width="0.10">Weeks post-transplant</text>
<text x="384.80" y="414.30" font-size="12.00" text-anchor="middle" textLength="4.60" lengthAdjust="spacingAndGlyphs" stroke="#231f20" stroke-width="0.10">*</text>
<line x1="385.00" y1="415.20" x2="385.00" y2="436.40" stroke="#1c4e8a" stroke-width="1.00"/>
<line x1="382.80" y1="415.20" x2="387.20" y2="415.20" stroke="#1c4e8a" stroke-width="1.00"/>
<line x1="410.80" y1="431.30" x2="410.80" y2="454.00" stroke="#1c4e8a" stroke-width="1.00"/>
<line x1="408.60" y1="431.30" x2="413.00" y2="431.30" stroke="#1c4e8a" stroke-width="1.00"/>
<line x1="436.60" y1="434.90" x2="436.60" y2="457.75" stroke="#1c4e8a" stroke-width="1.00"/>
<line x1="434.40" y1="434.90" x2="438.80" y2="434.90" stroke="#1c4e8a" stroke-width="1.00"/>
<line x1="463.00" y1="443.00" x2="463.00" y2="461.35" stroke="#1c4e8a" stroke-width="1.00"/>
<line x1="460.80" y1="443.00" x2="465.20" y2="443.00" stroke="#1c4e8a" stroke-width="1.00"/>
<line x1="385.00" y1="444.00" x2="385.00" y2="459.70" stroke="#c4102f" stroke-width="1.00"/>
<line x1="382.80" y1="444.00" x2="387.20" y2="444.00" stroke="#c4102f" stroke-width="1.00"/>
<line x1="410.80" y1="453.00" x2="410.80" y2="467.30" stroke="#c4102f" stroke-width="1.00"/>
<line x1="408.60" y1="453.00" x2="413.00" y2="453.00" stroke="#c4102f" stroke-width="1.00"/>
<line x1="436.60" y1="456.00" x2="436.60" y2="468.30" stroke="#c4102f" stroke-width="1.00"/>
<line x1="434.40" y1="456.00" x2="438.80" y2="456.00" stroke="#c4102f" stroke-width="1.00"/>
<line x1="463.00" y1="451.40" x2="463.00" y2="466.20" stroke="#c4102f" stroke-width="1.00"/>
<line x1="460.80" y1="451.40" x2="465.20" y2="451.40" stroke="#c4102f" stroke-width="1.00"/>
<path d="M385.00 472.30 L410.80 475.00 L436.60 475.00 L463.00 475.00" fill="none" stroke="#c4102f" stroke-width="1.20" stroke-dasharray="2,1.6"/>
<path d="M385.00 471.30 L410.80 469.20 L436.60 473.40 L463.00 474.00" fill="none" stroke="#1c4e8a" stroke-width="1.20" stroke-dasharray="2,1.6"/>
<path d="M385.00 459.70 L410.80 467.30 L436.60 468.30 L463.00 466.20" fill="none" stroke="#c4102f" stroke-width="1.40"/>
<path d="M385.00 436.40 L410.80 454.00 L436.60 457.75 L463.00 461.35" fill="none" stroke="#1c4e8a" stroke-width="1.80"/>
<circle cx="385.00" cy="436.40" r="1.50" fill="#1c4e8a"/>
<circle cx="410.80" cy="454.00" r="1.50" fill="#1c4e8a"/>
<circle cx="436.60" cy="457.75" r="1.50" fill="#1c4e8a"/>
<circle cx="463.00" cy="461.35" r="1.50" fill="#1c4e8a"/>
<circle cx="385.00" cy="459.70" r="1.40" fill="#c4102f"/>
<circle cx="410.80" cy="467.30" r="1.40" fill="#c4102f"/>
<circle cx="436.60" cy="468.30" r="1.40" fill="#c4102f"/>
<circle cx="463.00" cy="466.20" r="1.40" fill="#c4102f"/>
<text x="0.60" y="545.20" font-size="11.00" fill="#000" font-weight="bold" stroke="#000" stroke-width="0.10">I</text>
<line x1="54.30" y1="555.00" x2="54.30" y2="626.35" stroke="#3c3c3c" stroke-width="1.20"/>
<line x1="50.80" y1="625.75" x2="54.30" y2="625.75" stroke="#3c3c3c" stroke-width="1.20"/>
<text x="47.30" y="628.92" font-size="8.80" text-anchor="end" textLength="5.20" lengthAdjust="spacingAndGlyphs" stroke="#231f20" stroke-width="0.10">0</text>
<line x1="50.80" y1="611.90" x2="54.30" y2="611.90" stroke="#3c3c3c" stroke-width="1.20"/>
<text x="47.30" y="615.07" font-size="8.80" text-anchor="end" textLength="10.40" lengthAdjust="spacingAndGlyphs" stroke="#231f20" stroke-width="0.10">20</text>
<line x1="50.80" y1="598.05" x2="54.30" y2="598.05" stroke="#3c3c3c" stroke-width="1.20"/>
<text x="47.30" y="601.22" font-size="8.80" text-anchor="end" textLength="10.40" lengthAdjust="spacingAndGlyphs" stroke="#231f20" stroke-width="0.10">40</text>
<line x1="50.80" y1="584.20" x2="54.30" y2="584.20" stroke="#3c3c3c" stroke-width="1.20"/>
<text x="47.30" y="587.37" font-size="8.80" text-anchor="end" textLength="10.40" lengthAdjust="spacingAndGlyphs" stroke="#231f20" stroke-width="0.10">60</text>
<line x1="50.80" y1="570.35" x2="54.30" y2="570.35" stroke="#3c3c3c" stroke-width="1.20"/>
<text x="47.30" y="573.52" font-size="8.80" text-anchor="end" textLength="10.40" lengthAdjust="spacingAndGlyphs" stroke="#231f20" stroke-width="0.10">80</text>
<line x1="50.80" y1="556.50" x2="54.30" y2="556.50" stroke="#3c3c3c" stroke-width="1.20"/>
<text x="47.30" y="559.67" font-size="8.80" text-anchor="end" textLength="15.60" lengthAdjust="spacingAndGlyphs" stroke="#231f20" stroke-width="0.10">100</text>
<rect x="60.00" y="584.20" width="10.50" height="41.55" fill="#c8102e"/>
<rect x="75.75" y="570.35" width="10.50" height="55.40" fill="#1f4f8d"/>
<rect x="91.25" y="611.90" width="10.50" height="13.85" fill="#c8102e"/>
<rect x="107.50" y="624.37" width="10.50" height="1.39" fill="#1f4f8d"/>
<line x1="53.70" y1="625.75" x2="120.50" y2="625.75" stroke="#3c3c3c" stroke-width="1.20"/>
<text x="29.00" y="638.30" font-size="9.30" fill="#333" textLength="22.30" lengthAdjust="spacingAndGlyphs" font-style="italic" stroke="#333" stroke-width="0.10">Ifnar1</text>
<text x="63.00" y="638.30" font-size="9.30" fill="#333" text-anchor="middle" textLength="11.40" lengthAdjust="spacingAndGlyphs" font-style="italic" stroke="#333" stroke-width="0.10">+/–</text>
<text x="78.80" y="638.30" font-size="9.30" fill="#333" text-anchor="middle" textLength="11.40" lengthAdjust="spacingAndGlyphs" font-style="italic" stroke="#333" stroke-width="0.10">–/–</text>
<text x="96.00" y="638.30" font-size="9.30" fill="#333" text-anchor="middle" textLength="11.40" lengthAdjust="spacingAndGlyphs" font-style="italic" stroke="#333" stroke-width="0.10">+/–</text>
<text x="112.50" y="638.30" font-size="9.30" fill="#333" text-anchor="middle" textLength="11.40" lengthAdjust="spacingAndGlyphs" font-style="italic" stroke="#333" stroke-width="0.10">–/–</text>
<line x1="57.40" y1="641.90" x2="85.00" y2="641.90" stroke="#222" stroke-width="1.10"/>
<line x1="90.70" y1="641.90" x2="118.60" y2="641.90" stroke="#222" stroke-width="1.10"/>
<text x="71.80" y="655.00" font-size="10.00" text-anchor="middle" textLength="19.60" lengthAdjust="spacingAndGlyphs" stroke="#231f20" stroke-width="0.10">pGM</text>
<text x="104.90" y="655.00" font-size="10.00" text-anchor="middle" textLength="19.30" lengthAdjust="spacingAndGlyphs" stroke="#231f20" stroke-width="0.10">GMP</text>
<line x1="204.80" y1="555.00" x2="204.80" y2="626.35" stroke="#3c3c3c" stroke-width="1.20"/>
<line x1="201.30" y1="625.75" x2="204.80" y2="625.75" stroke="#3c3c3c" stroke-width="1.20"/>
<text x="197.80" y="628.92" font-size="8.80" text-anchor="end" textLength="5.20" lengthAdjust="spacingAndGlyphs" stroke="#231f20" stroke-width="0.10">0</text>
<line x1="201.30" y1="611.90" x2="204.80" y2="611.90" stroke="#3c3c3c" stroke-width="1.20"/>
<text x="197.80" y="615.07" font-size="8.80" text-anchor="end" textLength="10.40" lengthAdjust="spacingAndGlyphs" stroke="#231f20" stroke-width="0.10">20</text>
<line x1="201.30" y1="598.05" x2="204.80" y2="598.05" stroke="#3c3c3c" stroke-width="1.20"/>
<text x="197.80" y="601.22" font-size="8.80" text-anchor="end" textLength="10.40" lengthAdjust="spacingAndGlyphs" stroke="#231f20" stroke-width="0.10">40</text>
<line x1="201.30" y1="584.20" x2="204.80" y2="584.20" stroke="#3c3c3c" stroke-width="1.20"/>
<text x="197.80" y="587.37" font-size="8.80" text-anchor="end" textLength="10.40" lengthAdjust="spacingAndGlyphs" stroke="#231f20" stroke-width="0.10">60</text>
<line x1="201.30" y1="570.35" x2="204.80" y2="570.35" stroke="#3c3c3c" stroke-width="1.20"/>
<text x="197.80" y="573.52" font-size="8.80" text-anchor="end" textLength="10.40" lengthAdjust="spacingAndGlyphs" stroke="#231f20" stroke-width="0.10">80</text>
<line x1="201.30" y1="556.50" x2="204.80" y2="556.50" stroke="#3c3c3c" stroke-width="1.20"/>
<text x="197.80" y="559.67" font-size="8.80" text-anchor="end" textLength="15.60" lengthAdjust="spacingAndGlyphs" stroke="#231f20" stroke-width="0.10">100</text>
<rect x="211.00" y="604.98" width="10.00" height="20.77" fill="#c8102e"/>
<rect x="226.40" y="577.27" width="9.80" height="48.48" fill="#1f4f8d"/>
<rect x="241.90" y="624.37" width="10.10" height="1.39" fill="#c8102e"/>
<rect x="258.60" y="618.83" width="10.00" height="6.92" fill="#1f4f8d"/>
<line x1="204.20" y1="625.75" x2="271.10" y2="625.75" stroke="#3c3c3c" stroke-width="1.20"/>
<text x="179.70" y="638.30" font-size="9.30" fill="#333" textLength="21.60" lengthAdjust="spacingAndGlyphs" font-style="italic" stroke="#333" stroke-width="0.10">Ifnar1</text>
<text x="213.20" y="638.30" font-size="9.30" fill="#333" text-anchor="middle" textLength="11.40" lengthAdjust="spacingAndGlyphs" font-style="italic" stroke="#333" stroke-width="0.10">+/–</text>
<text x="229.60" y="638.30" font-size="9.30" fill="#333" text-anchor="middle" textLength="11.40" lengthAdjust="spacingAndGlyphs" font-style="italic" stroke="#333" stroke-width="0.10">–/–</text>
<text x="246.00" y="638.30" font-size="9.30" fill="#333" text-anchor="middle" textLength="11.40" lengthAdjust="spacingAndGlyphs" font-style="italic" stroke="#333" stroke-width="0.10">+/–</text>
<text x="262.70" y="638.30" font-size="9.30" fill="#333" text-anchor="middle" textLength="11.40" lengthAdjust="spacingAndGlyphs" font-style="italic" stroke="#333" stroke-width="0.10">–/–</text>
<line x1="207.40" y1="641.90" x2="235.70" y2="641.90" stroke="#222" stroke-width="1.10"/>
<line x1="240.70" y1="641.90" x2="269.00" y2="641.90" stroke="#222" stroke-width="1.10"/>
<text x="222.00" y="655.00" font-size="10.00" text-anchor="middle" textLength="19.60" lengthAdjust="spacingAndGlyphs" stroke="#231f20" stroke-width="0.10">pGM</text>
<text x="254.90" y="655.00" font-size="10.00" text-anchor="middle" textLength="19.30" lengthAdjust="spacingAndGlyphs" stroke="#231f20" stroke-width="0.10">GMP</text>
<text x="9.60" y="589.40" font-size="11.00" text-anchor="middle" textLength="33.00" lengthAdjust="spacingAndGlyphs" transform="rotate(-90.0 9.60 589.40)" stroke="#231f20" stroke-width="0.10">Myeloid</text>
<text x="23.20" y="589.30" font-size="11.00" text-anchor="middle" textLength="68.50" lengthAdjust="spacingAndGlyphs" transform="rotate(-90.0 23.20 589.30)" stroke="#231f20" stroke-width="0.10">reconstituted (%)</text>
<text x="150.30" y="545.20" font-size="11.00" fill="#000" font-weight="bold" stroke="#000" stroke-width="0.10">J</text>
<text x="160.50" y="589.60" font-size="11.00" text-anchor="middle" textLength="24.50" lengthAdjust="spacingAndGlyphs" transform="rotate(-90.0 160.50 589.60)" stroke="#231f20" stroke-width="0.10">B-cell</text>
<text x="174.60" y="589.60" font-size="11.00" text-anchor="middle" textLength="69.00" lengthAdjust="spacingAndGlyphs" transform="rotate(-90.0 174.60 589.60)" stroke="#231f20" stroke-width="0.10">reconstituted (%)</text>
<text x="318.50" y="536.20" font-size="11.00" fill="#000" font-weight="bold" stroke="#000" stroke-width="0.10">K</text>
<defs><linearGradient id="kg" x1="0" y1="0" x2="0" y2="1"><stop offset="0" stop-color="#9a72c0"/><stop offset="0.5" stop-color="#8a6cc4"/><stop offset="0.75" stop-color="#6670cc"/><stop offset="1" stop-color="#2b88da"/></linearGradient></defs>
<text x="347.30" y="551.00" font-size="9.60" text-anchor="middle" textLength="18.50" lengthAdjust="spacingAndGlyphs" stroke="#231f20" stroke-width="0.10">HSC</text>
<text x="347.30" y="579.00" font-size="9.60" text-anchor="middle" textLength="18.50" lengthAdjust="spacingAndGlyphs" stroke="#231f20" stroke-width="0.10">MPP</text>
<text x="347.30" y="607.60" font-size="9.60" text-anchor="middle" textLength="20.70" lengthAdjust="spacingAndGlyphs" stroke="#231f20" stroke-width="0.10">pGM</text>
<text x="347.30" y="635.40" font-size="9.60" text-anchor="middle" textLength="20.70" lengthAdjust="spacingAndGlyphs" stroke="#231f20" stroke-width="0.10">GMP</text>
<line x1="347.30" y1="557.00" x2="347.30" y2="565.80" stroke="#111" stroke-width="1.20"/>
<path d="M345.20 564.10 L349.40 564.10 L347.30 567.60 Z" fill="#111"/>
<line x1="347.30" y1="584.60" x2="347.30" y2="593.50" stroke="#111" stroke-width="1.20"/>
<path d="M345.20 591.80 L349.40 591.80 L347.30 595.30 Z" fill="#111"/>
<line x1="347.30" y1="612.30" x2="347.30" y2="621.20" stroke="#111" stroke-width="1.20"/>
<path d="M345.20 619.50 L349.40 619.50 L347.30 623.00 Z" fill="#111"/>
<path d="M378.90 542.10 A2.50 1.50 0 0 1 383.90 542.10 L383.90 542.18 L383.89 543.76 L383.89 545.34 L383.89 546.92 L383.88 548.50 L383.88 550.08 L383.88 551.66 L383.88 553.24 L383.87 554.82 L383.87 556.40 L383.87 557.98 L383.86 559.56 L383.86 561.14 L383.86 562.72 L383.85 564.30 L383.85 565.88 L383.90 567.46 L383.97 569.04 L384.04 570.62 L384.11 572.20 L384.18 573.78 L384.25 575.36 L384.33 576.94 L384.41 578.52 L384.48 580.10 L384.57 581.68 L384.68 583.26 L384.81 584.84 L384.95 586.42 L385.09 588.00 L385.24 589.58 L385.40 591.16 L385.56 592.74 L385.73 594.32 L385.90 595.90 L386.09 597.48 L386.28 599.06 L386.47 600.64 L386.68 602.22 L386.89 603.80 L387.12 605.38 L387.35 606.96 L387.59 608.54 L387.84 610.12 L388.10 611.70 L388.37 613.28 L388.67 614.86 L389.02 616.44 L389.38 618.02 L389.77 619.60 L390.17 621.18 L390.59 622.76 L391.04 624.34 L391.50 625.92 L392.01 627.50 L392.55 629.08 L393.12 630.66 L393.72 632.24 L394.34 633.82 L395.00 635.40 L367.80 635.40 L368.46 633.82 L369.08 632.24 L369.68 630.66 L370.25 629.08 L370.79 627.50 L371.30 625.92 L371.76 624.34 L372.21 622.76 L372.63 621.18 L373.03 619.60 L373.42 618.02 L373.78 616.44 L374.13 614.86 L374.43 613.28 L374.70 611.70 L374.96 610.12 L375.21 608.54 L375.45 606.96 L375.68 605.38 L375.91 603.80 L376.12 602.22 L376.33 600.64 L376.52 599.06 L376.71 597.48 L376.90 595.90 L377.07 594.32 L377.24 592.74 L377.40 591.16 L377.56 589.58 L377.71 588.00 L377.85 586.42 L377.99 584.84 L378.12 583.26 L378.23 581.68 L378.32 580.10 L378.39 578.52 L378.47 576.94 L378.55 575.36 L378.62 573.78 L378.69 572.20 L378.76 570.62 L378.83 569.04 L378.90 567.46 L378.95 565.88 L378.95 564.30 L378.94 562.72 L378.94 561.14 L378.94 559.56 L378.93 557.98 L378.93 556.40 L378.93 554.82 L378.92 553.24 L378.92 551.66 L378.92 550.08 L378.92 548.50 L378.91 546.92 L378.91 545.34 L378.91 543.76 L378.90 542.18 Z" fill="url(#kg)"/>
<path d="M433.35 568.71 A2.85 1.71 0 0 1 439.05 568.71 L439.06 569.27 L439.06 570.40 L439.06 571.53 L439.06 572.67 L439.07 573.80 L439.07 574.93 L439.07 576.07 L439.07 577.20 L439.08 578.33 L439.08 579.47 L439.08 580.60 L439.08 581.73 L439.09 582.87 L439.09 584.00 L439.09 585.13 L439.09 586.27 L439.10 587.40 L439.10 588.53 L439.18 589.67 L439.28 590.80 L439.39 591.93 L439.49 593.07 L439.61 594.20 L439.72 595.33 L439.84 596.47 L439.97 597.60 L440.10 598.73 L440.23 599.87 L440.37 601.00 L440.51 602.13 L440.66 603.27 L440.81 604.40 L440.97 605.53 L441.13 606.67 L441.30 607.80 L441.50 608.93 L441.71 610.07 L441.93 611.20 L442.16 612.33 L442.40 613.47 L442.65 614.60 L442.90 615.73 L443.17 616.87 L443.45 618.00 L443.74 619.13 L444.04 620.27 L444.35 621.40 L444.72 622.53 L445.10 623.67 L445.51 624.80 L445.93 625.93 L446.37 627.07 L446.83 628.20 L447.30 629.33 L447.74 630.47 L448.20 631.60 L448.68 632.73 L449.18 633.87 L449.70 635.00 L422.70 635.00 L423.22 633.87 L423.72 632.73 L424.20 631.60 L424.66 630.47 L425.10 629.33 L425.57 628.20 L426.03 627.07 L426.47 625.93 L426.89 624.80 L427.30 623.67 L427.68 622.53 L428.05 621.40 L428.36 620.27 L428.66 619.13 L428.95 618.00 L429.23 616.87 L429.50 615.73 L429.75 614.60 L430.00 613.47 L430.24 612.33 L430.47 611.20 L430.69 610.07 L430.90 608.93 L431.10 607.80 L431.27 606.67 L431.43 605.53 L431.59 604.40 L431.74 603.27 L431.89 602.13 L432.03 601.00 L432.17 599.87 L432.30 598.73 L432.43 597.60 L432.56 596.47 L432.68 595.33 L432.79 594.20 L432.91 593.07 L433.01 591.93 L433.12 590.80 L433.22 589.67 L433.30 588.53 L433.30 587.40 L433.31 586.27 L433.31 585.13 L433.31 584.00 L433.31 582.87 L433.32 581.73 L433.32 580.60 L433.32 579.47 L433.32 578.33 L433.33 577.20 L433.33 576.07 L433.33 574.93 L433.33 573.80 L433.34 572.67 L433.34 571.53 L433.34 570.40 L433.34 569.27 Z" fill="url(#kg)"/>
<path d="M482.55 593.11 A3.85 2.31 0 0 1 490.25 593.11 L490.40 593.75 L490.44 594.48 L490.48 595.22 L490.52 595.96 L490.56 596.69 L490.60 597.43 L490.64 598.17 L490.68 598.90 L490.72 599.64 L490.77 600.38 L490.81 601.11 L490.85 601.85 L490.89 602.59 L490.94 603.32 L490.98 604.06 L491.03 604.80 L491.07 605.53 L491.12 606.27 L491.16 607.01 L491.23 607.74 L491.39 608.48 L491.55 609.22 L491.71 609.95 L491.88 610.69 L492.06 611.43 L492.24 612.16 L492.43 612.90 L492.62 613.64 L492.82 614.37 L493.03 615.11 L493.24 615.85 L493.46 616.58 L493.69 617.32 L493.93 618.06 L494.17 618.79 L494.42 619.53 L494.67 620.27 L494.94 621.00 L495.25 621.74 L495.59 622.48 L495.95 623.21 L496.32 623.95 L496.71 624.69 L497.11 625.42 L497.53 626.16 L497.96 626.90 L498.41 627.63 L498.88 628.37 L499.36 629.11 L499.80 629.84 L500.25 630.58 L500.72 631.32 L501.20 632.05 L501.70 632.79 L502.22 633.53 L502.75 634.26 L503.30 635.00 L469.50 635.00 L470.05 634.26 L470.58 633.53 L471.10 632.79 L471.60 632.05 L472.08 631.32 L472.55 630.58 L473.00 629.84 L473.44 629.11 L473.92 628.37 L474.39 627.63 L474.84 626.90 L475.27 626.16 L475.69 625.42 L476.09 624.69 L476.48 623.95 L476.85 623.21 L477.21 622.48 L477.55 621.74 L477.86 621.00 L478.13 620.27 L478.38 619.53 L478.63 618.79 L478.87 618.06 L479.11 617.32 L479.34 616.58 L479.56 615.85 L479.77 615.11 L479.98 614.37 L480.18 613.64 L480.37 612.90 L480.56 612.16 L480.74 611.43 L480.92 610.69 L481.09 609.95 L481.25 609.22 L481.41 608.48 L481.57 607.74 L481.64 607.01 L481.68 606.27 L481.73 605.53 L481.77 604.80 L481.82 604.06 L481.86 603.32 L481.91 602.59 L481.95 601.85 L481.99 601.11 L482.03 600.38 L482.08 599.64 L482.12 598.90 L482.16 598.17 L482.20 597.43 L482.24 596.69 L482.28 595.96 L482.32 595.22 L482.36 594.48 L482.40 593.75 Z" fill="url(#kg)"/>
<text x="384.20" y="646.50" font-size="9.60" text-anchor="middle" textLength="14.00" lengthAdjust="spacingAndGlyphs" stroke="#231f20" stroke-width="0.10">WT</text>
<text x="434.70" y="646.80" font-size="9.60" text-anchor="middle" textLength="49.50" lengthAdjust="spacingAndGlyphs" stroke="#231f20" stroke-width="0.10">ITD/NHD13</text>
<text x="489.50" y="646.80" font-size="9.60" text-anchor="middle" textLength="47.70" lengthAdjust="spacingAndGlyphs" stroke="#231f20" stroke-width="0.10">ITD/NHD13</text>
<text x="489.00" y="657.50" font-size="9.60" text-anchor="middle" textLength="38.00" lengthAdjust="spacingAndGlyphs" stroke="#231f20" stroke-width="0.10">ifnar1 –/–</text>
<text x="406.60" y="553.40" font-size="9.80" fill="#a08cc4" textLength="49.00" lengthAdjust="spacingAndGlyphs" stroke="#a08cc4" stroke-width="0.10">self-renewal</text>
<text x="401.50" y="533.20" font-size="9.60" textLength="62.50" lengthAdjust="spacingAndGlyphs" stroke="#231f20" stroke-width="0.10">population size</text>
<line x1="390.50" y1="530.60" x2="399.00" y2="530.60" stroke="#111" stroke-width="1.20"/>
<path d="M388 530.6 L391.8 528.4 L391.8 532.8 Z" fill="#111"/>
<line x1="465.60" y1="530.60" x2="474.50" y2="530.60" stroke="#111" stroke-width="1.20"/>
<path d="M477 530.6 L473.2 528.4 L473.2 532.8 Z" fill="#111"/>
<path d="M394.54 542.73 A6.80 6.80 0 1 1 391.09 553.67" fill="none" stroke="#9d8abf" stroke-width="1.15"/>
<path d="M389.54 551.08 L392.91 553.14 L389.38 555.02 Z" fill="#9d8abf"/>
<path d="M453.84 568.03 A6.80 6.80 0 1 1 450.39 578.97" fill="none" stroke="#9d8abf" stroke-width="1.15"/>
<path d="M448.84 576.38 L452.21 578.44 L448.68 580.32 Z" fill="#9d8abf"/>
<path d="M454.54 596.73 A6.80 6.80 0 1 1 451.09 607.67" fill="none" stroke="#9d8abf" stroke-width="1.15"/>
<path d="M449.54 605.08 L452.91 607.14 L449.38 609.02 Z" fill="#9d8abf"/>
<path d="M503.64 596.73 A6.80 6.80 0 1 1 500.19 607.67" fill="none" stroke="#9d8abf" stroke-width="1.15"/>
<path d="M498.64 605.08 L502.01 607.14 L498.48 609.02 Z" fill="#9d8abf"/>
</g>
</svg>
</body></html>
